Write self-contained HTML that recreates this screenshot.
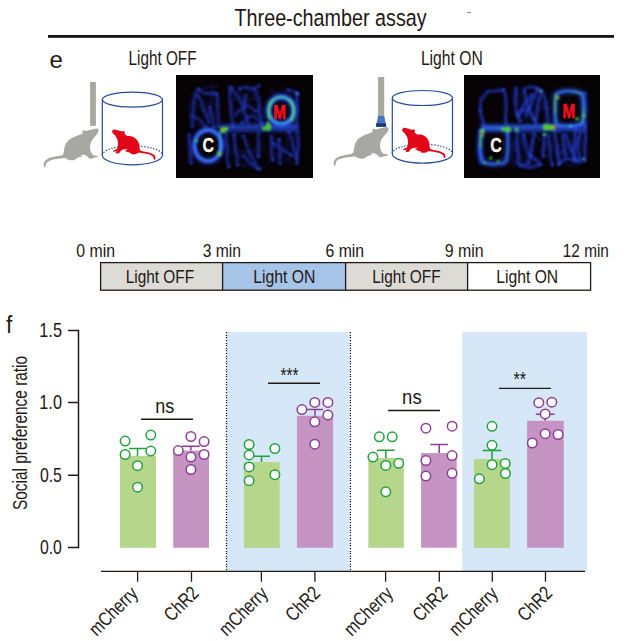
<!DOCTYPE html><html><head><meta charset="utf-8"><style>
html,body{margin:0;padding:0;background:#fff;width:639px;height:641px;overflow:hidden}
svg{display:block}
text{font-family:"Liberation Sans",sans-serif}
</style></head><body>
<svg width="639" height="641" viewBox="0 0 639 641">
<defs>
<filter id="bl" filterUnits="userSpaceOnUse" x="-700" y="-700" width="1400" height="1400"><feGaussianBlur stdDeviation="1.1"/></filter>
<filter id="bl2" filterUnits="userSpaceOnUse" x="-700" y="-700" width="1400" height="1400"><feGaussianBlur stdDeviation="2.2"/></filter>
<path id="rat" d="M98.6,129.6 C98.3,129.5 97.9,128.7 97.1,128.5 C96.4,128.4 95.1,128.7 93.9,129.0 C92.6,129.2 90.8,129.7 89.5,130.1 C88.2,130.4 87.0,130.9 86.2,131.0 C85.4,131.0 85.0,130.7 84.5,130.6 C84.1,130.5 83.6,130.2 83.2,130.4 C82.9,130.6 82.4,131.1 82.2,131.6 C82.1,132.1 82.9,132.8 82.5,133.4 C82.0,133.9 80.8,134.3 79.6,134.8 C78.4,135.3 76.7,135.8 75.2,136.4 C73.8,137.1 72.2,137.7 70.9,138.6 C69.5,139.5 68.0,140.6 67.0,141.9 C66.0,143.2 65.3,144.8 64.8,146.3 C64.3,147.7 64.2,149.4 64.0,150.7 C63.7,152.0 63.6,153.4 63.2,154.2 C62.8,154.9 62.6,154.9 61.5,155.3 C60.5,155.6 58.5,155.8 56.6,156.3 C54.7,156.7 51.9,157.1 50.0,157.8 C48.2,158.5 46.7,159.3 45.7,160.3 C44.6,161.3 44.0,162.6 43.7,163.6 C43.4,164.6 43.8,165.9 44.0,166.5 C44.2,167.2 44.6,167.7 44.9,167.5 C45.2,167.4 45.4,166.5 45.7,165.8 C45.9,165.1 45.7,164.0 46.2,163.3 C46.7,162.5 47.5,161.8 48.7,161.2 C49.9,160.6 51.5,160.1 53.3,159.6 C55.2,159.2 58.0,158.8 59.9,158.6 C61.8,158.3 63.6,157.9 64.8,158.0 C66.1,158.2 66.6,159.0 67.6,159.4 C68.6,159.8 69.8,160.2 70.9,160.3 C72.0,160.4 73.2,160.4 74.1,160.1 C75.1,159.8 75.7,158.8 76.6,158.3 C77.4,157.8 78.5,157.3 79.4,157.0 C80.3,156.7 81.8,156.7 82.0,156.4 C82.3,156.1 80.6,155.5 80.9,155.3 C81.3,155.0 82.9,154.6 84.0,154.8 C85.1,155.0 86.4,155.8 87.3,156.4 C88.1,156.9 88.3,157.9 89.0,158.3 C89.8,158.7 91.2,158.8 91.9,158.8 C92.6,158.7 92.6,158.1 93.3,157.9 C94.0,157.7 95.5,157.6 96.3,157.5 C97.0,157.3 97.8,157.1 97.8,156.8 C97.8,156.5 97.0,156.0 96.3,155.7 C95.5,155.5 94.2,155.7 93.4,155.3 C92.6,154.8 92.0,154.2 91.5,153.1 C90.9,152.0 90.3,150.3 90.1,148.7 C90.0,147.1 90.1,145.1 90.6,143.5 C91.0,142.0 91.9,140.5 92.8,139.2 C93.7,137.8 95.1,136.5 96.1,135.3 C97.0,134.2 97.8,133.2 98.2,132.3 C98.7,131.3 98.5,130.1 98.6,129.6 Z"/>
<path id="redrat" d="M112.3,131.1 C112.5,130.8 112.8,129.7 113.5,129.5 C114.2,129.3 115.4,129.7 116.6,129.9 C117.8,130.2 119.5,130.8 120.5,131.1 C121.5,131.3 122.0,131.5 122.5,131.5 C123.0,131.5 123.2,130.8 123.6,130.9 C124.1,131.0 124.8,131.6 125.0,132.1 C125.1,132.6 124.3,133.2 124.6,133.8 C124.9,134.4 125.8,135.4 126.8,135.8 C127.8,136.2 129.4,135.8 130.7,136.2 C132.0,136.5 133.4,137.0 134.6,137.7 C135.8,138.5 137.0,139.7 137.7,140.9 C138.5,142.0 139.0,143.5 139.3,144.8 C139.6,146.1 139.5,147.7 139.7,148.7 C139.9,149.7 139.9,150.1 140.7,150.6 C141.6,151.2 143.2,151.4 144.8,151.8 C146.4,152.2 148.7,152.5 150.3,153.0 C151.8,153.5 153.3,154.2 154.2,155.0 C155.0,155.7 155.4,156.5 155.5,157.3 C155.6,158.1 155.2,159.5 154.9,159.8 C154.7,160.1 154.1,159.4 153.8,158.9 C153.4,158.3 153.7,157.4 153.0,156.7 C152.3,156.0 150.8,155.2 149.5,154.6 C148.1,154.1 146.5,153.9 144.8,153.5 C143.1,153.2 140.6,152.8 139.3,152.8 C138.0,152.8 137.7,153.3 137.0,153.5 C136.2,153.8 135.5,154.2 134.6,154.3 C133.7,154.5 132.2,154.5 131.5,154.3 C130.8,154.1 131.2,153.5 130.5,153.1 C129.9,152.7 128.4,152.3 127.6,152.0 C126.7,151.7 125.6,151.5 125.4,151.2 C125.1,150.8 125.6,150.2 126.2,149.9 C126.7,149.6 128.9,149.4 128.5,149.3 C128.1,149.3 124.8,149.3 123.6,149.5 C122.4,149.7 122.1,149.8 121.3,150.4 C120.5,151.0 119.7,152.6 119.0,153.1 C118.2,153.6 117.2,153.7 116.6,153.5 C116.1,153.4 115.5,152.8 115.7,152.3 C115.9,151.8 117.8,150.7 117.8,150.6 C117.7,150.5 116.2,151.4 115.4,151.6 C114.7,151.8 113.4,151.8 113.1,151.6 C112.8,151.4 113.0,150.9 113.6,150.5 C114.2,150.1 115.9,149.6 116.6,149.0 C117.3,148.4 117.6,148.2 117.8,147.0 C118.0,145.7 118.0,143.2 117.8,141.6 C117.6,140.1 117.2,138.9 116.6,137.7 C116.0,136.6 115.0,135.5 114.3,134.6 C113.5,133.7 112.6,133.0 112.3,132.4 C112.0,131.8 112.3,131.3 112.3,131.1 Z"/>
</defs>
<text transform="translate(234.49,25.8) scale(0.8416,1)" font-size="23.5" font-weight="400" fill="#231815">Three-chamber assay</text>
<rect x="48" y="35" width="566" height="2.8" fill="#1a1212"/>
<rect x="467" y="12" width="4" height="1" fill="#888"/>
<text x="49.6" y="68" font-size="24" fill="#231815">e</text>
<text transform="translate(128.57,64.9) scale(0.7840,1)" font-size="19.5" font-weight="400" fill="#231815">Light OFF</text>
<text transform="translate(420.89,64.9) scale(0.8054,1)" font-size="19.5" font-weight="400" fill="#231815">Light ON</text>
<g transform="translate(0,0)"><path d="M102.3,99.6 L102.3,155.3 M162.5,99.6 L162.5,155.3" stroke="#254a98" stroke-width="1.2" fill="none"/><ellipse cx="132.4" cy="99.6" rx="30.1" ry="7.5" stroke="#254a98" stroke-width="1.2" fill="none"/><path d="M102.3,155.3 A30.1,9.5 0 0 0 162.5,155.3" stroke="#254a98" stroke-width="1.2" fill="none"/><path d="M102.3,155.3 A30.1,9.5 0 0 1 162.5,155.3" stroke="#254a98" stroke-width="1.3" stroke-dasharray="1.3 1.7" fill="none"/><use href="#rat" fill="#a8a7a1"/><use href="#redrat" fill="#e30618"/></g>
<rect x="90.1" y="82" width="5.8" height="43.9" fill="#a8a7a1"/>
<g transform="translate(290,-1.6)"><path d="M102.3,99.6 L102.3,155.3 M162.5,99.6 L162.5,155.3" stroke="#254a98" stroke-width="1.2" fill="none"/><ellipse cx="132.4" cy="99.6" rx="30.1" ry="7.5" stroke="#254a98" stroke-width="1.2" fill="none"/><path d="M102.3,155.3 A30.1,9.5 0 0 0 162.5,155.3" stroke="#254a98" stroke-width="1.2" fill="none"/><path d="M102.3,155.3 A30.1,9.5 0 0 1 162.5,155.3" stroke="#254a98" stroke-width="1.3" stroke-dasharray="1.3 1.7" fill="none"/><use href="#rat" fill="#a8a7a1"/><use href="#redrat" fill="#e30618"/></g>
<rect x="378.1" y="77" width="6.1" height="38.9" fill="#a8a7a1"/>
<path d="M378.1,115.7 L384.2,115.7 L385.8,123.4 L376.7,123.4 Z" fill="#4a72c4"/>
<rect x="376.1" y="123.2" width="10" height="3.7" fill="#17397a"/>
<g transform="translate(176,75)"><rect x="0" y="0" width="137" height="103" fill="#070203"/><g filter="url(#bl)" stroke="#2a46e8" stroke-width="0.7" fill="none" opacity="0.4"><path d="M16.1,29.7 C18.1,30.9 28.7,37.6 28.3,36.9 C27.9,36.3 15.8,23.4 13.8,25.8 C11.7,28.2 12.9,49.4 16.2,51.3 C19.4,53.2 29.8,43.6 33.3,37.0 C36.8,30.4 37.2,10.6 37.0,11.6 C36.7,12.7 32.7,38.1 31.8,43.3"/><path d="M43.4,33.2 C40.8,31.7 27.9,21.8 27.8,23.8 C27.7,25.9 43.5,46.1 42.9,45.8 C42.2,45.5 26.0,27.6 23.8,22.0 C21.6,16.3 26.4,13.6 29.6,11.8 C32.8,10.1 42.9,11.4 42.9,11.5 C42.9,11.6 31.8,12.5 29.6,12.7"/><path d="M88.3,40.3 C82.4,40.3 55.9,44.7 52.9,40.0 C49.8,35.4 64.1,11.0 70.2,12.5 C76.4,14.1 92.7,46.7 89.8,49.2 C87.0,51.7 54.4,31.6 53.1,27.3 C51.9,23.0 80.7,23.6 82.1,23.6 C83.5,23.5 64.8,26.4 61.4,27.0"/><path d="M76.5,15.8 C74.0,16.8 63.3,20.6 61.5,21.8 C59.6,23.1 65.5,25.1 65.5,23.3 C65.6,21.4 63.6,11.5 61.7,10.5 C59.8,9.6 55.7,16.2 54.3,17.8 C52.8,19.4 51.6,19.9 53.0,20.2 C54.4,20.4 61.1,19.4 62.7,19.2"/><path d="M121.2,22.1 C120.9,24.8 123.6,40.2 119.3,38.7 C115.1,37.3 98.0,14.5 95.4,13.3 C92.9,12.0 102.2,27.6 104.1,31.3 C106.1,34.9 104.2,37.3 107.2,35.3 C110.2,33.3 123.2,22.9 122.3,19.2 C121.4,15.5 105.3,14.1 101.9,13.1"/><path d="M66.5,90.6 C70.6,85.4 86.5,61.4 90.9,59.2 C95.4,56.9 93.6,71.6 93.3,77.2 C93.0,82.7 93.7,90.1 89.0,92.4 C84.3,94.7 66.2,91.4 64.9,90.7 C63.6,90.1 78.5,89.4 81.0,88.4 C83.4,87.4 79.8,85.2 79.6,84.6"/><path d="M64.8,80.7 C68.4,79.1 83.0,71.7 86.6,71.0 C90.2,70.3 89.7,75.6 86.3,76.6 C82.8,77.6 71.5,76.6 66.1,77.0 C60.6,77.4 49.9,78.1 53.4,79.0 C56.9,79.9 87.3,83.6 87.0,82.2 C86.6,80.8 57.0,72.5 51.0,70.6"/><path d="M94.9,76.4 C99.4,78.6 119.6,87.7 121.8,89.4 C124.0,91.1 108.1,88.4 108.1,86.5 C108.1,84.6 121.3,80.6 122.1,78.1 C122.9,75.5 116.2,70.9 113.1,71.0 C110.0,71.1 106.5,76.7 103.5,78.6 C100.4,80.5 96.2,81.8 94.8,82.4"/><path d="M122.4,74.7 C121.4,71.5 120.5,55.6 116.0,55.3 C111.4,55.0 98.8,68.9 95.3,73.0 C91.7,77.1 93.3,78.0 94.6,79.9 C96.0,81.7 100.2,88.2 103.3,84.2 C106.4,80.1 111.8,56.6 113.0,55.6 C114.2,54.5 110.8,74.1 110.4,77.8"/></g><g filter="url(#bl2)" stroke="#1a2cc0" stroke-width="2.4" fill="none" stroke-linecap="round" opacity="0.5"><path d="M22.5,14.0 C21.7,15.7 18.5,17.7 17.5,24.0 C16.5,30.3 16.6,47.3 16.4,52.0"/><path d="M22.5,14.0 C23.8,14.7 27.0,17.2 30.0,18.0 C33.0,18.8 38.8,18.8 40.5,19.0"/><path d="M40.5,19.0 C40.8,21.7 41.6,29.6 42.0,35.0 C42.4,40.4 42.6,48.8 42.7,51.5"/><path d="M21.9,21.0 C22.9,23.3 26.2,30.7 28.0,35.0 C29.8,39.3 32.1,45.0 32.9,47.0"/><path d="M34.0,32.0 C34.3,33.7 35.3,38.7 36.0,42.0 C36.7,45.3 37.7,50.3 38.0,52.0"/><path d="M16.0,40.0 C17.3,41.0 21.7,44.0 24.0,46.0 C26.3,48.0 29.0,51.0 30.0,52.0"/><path d="M53.7,12.0 C53.9,15.3 54.5,25.3 55.0,32.0 C55.5,38.7 56.7,48.7 57.0,52.0"/><path d="M56.0,13.0 C57.0,14.5 60.0,18.7 62.0,22.0 C64.0,25.3 67.0,31.2 68.0,33.0"/><path d="M64.0,14.0 C65.0,13.7 67.7,12.0 70.0,12.0 C72.3,12.0 75.8,14.3 78.0,14.0 C80.2,13.7 82.5,11.0 83.4,10.4"/><path d="M78.0,14.0 C78.7,15.6 81.3,19.2 82.3,23.5 C83.3,27.8 83.4,35.6 84.0,40.0 C84.6,44.4 85.7,48.3 86.0,50.0"/><path d="M70.0,20.0 C69.7,22.5 67.7,30.3 68.0,35.0 C68.3,39.7 71.3,45.8 72.0,48.0"/><path d="M60.0,40.0 C61.7,38.3 66.7,30.7 70.0,30.0 C73.3,29.3 78.3,35.0 80.0,36.0"/><path d="M66.0,48.0 C67.7,46.7 72.7,40.0 76.0,40.0 C79.3,40.0 84.3,46.7 86.0,48.0"/><path d="M121.2,18.6 C121.1,21.3 120.5,29.4 120.5,35.0 C120.5,40.6 120.9,49.2 121.0,52.0"/><path d="M112.0,15.0 L121.2,18.6"/><path d="M13.0,60.0 C13.2,62.5 13.7,70.3 14.0,75.0 C14.3,79.7 14.8,85.8 15.0,88.0"/><path d="M67.0,61.0 C68.2,63.8 71.6,72.7 74.0,78.0 C76.4,83.3 80.0,90.4 81.2,92.9"/><path d="M82.3,58.0 C82.3,60.0 82.3,66.2 82.3,70.0 C82.3,73.8 82.3,79.2 82.3,81.0"/><path d="M50.0,58.0 C50.2,60.8 50.5,69.3 51.0,75.0 C51.5,80.7 52.7,89.2 53.0,92.0"/><path d="M67.0,80.9 C68.3,82.1 72.3,85.8 75.0,88.0 C77.7,90.2 82.0,93.0 83.4,94.0"/><path d="M58.0,60.0 C58.3,62.7 59.3,71.0 60.0,76.0 C60.7,81.0 61.7,87.7 62.0,90.0"/><path d="M95.5,61.0 C95.6,63.0 95.8,69.0 96.0,73.0 C96.2,77.0 96.5,83.2 96.6,85.2"/><path d="M103.0,64.4 C103.1,66.3 103.3,72.0 103.5,76.0 C103.7,80.0 104.1,86.4 104.2,88.5"/><path d="M113.0,56.8 C113.7,59.0 115.7,65.6 117.0,70.0 C118.3,74.4 120.1,80.8 120.7,83.0"/><path d="M97.0,68.0 C98.5,69.0 103.0,72.0 106.0,74.0 C109.0,76.0 113.5,79.0 115.0,80.0"/><path d="M121.8,56.0 C121.8,58.3 122.1,64.7 122.0,70.0 C121.9,75.3 121.2,85.0 121.0,88.0"/></g><g filter="url(#bl2)" fill="none"><ellipse cx="32" cy="70.5" rx="14" ry="16" stroke="#1c38c8" stroke-width="6" opacity="0.7"/><ellipse cx="105.3" cy="35.5" rx="13" ry="14" stroke="#1c3ad0" stroke-width="7" opacity="0.8"/><path d="M44,53.5 C60,52.5 90,52.5 122,53" stroke="#1c38c8" stroke-width="8" opacity="0.6"/></g><g filter="url(#bl)" stroke="#2c4cf0" stroke-width="0.9" fill="none" stroke-linecap="round" opacity="0.55"><path d="M22.2,13.1 C22.0,14.0 21.4,16.4 20.8,18.3 C20.1,20.3 18.7,21.7 18.3,24.8 C17.9,27.9 18.8,32.4 18.3,36.9 C17.8,41.5 15.8,49.6 15.3,52.1"/><path d="M22.9,13.6 C22.2,14.4 19.6,16.5 18.8,18.2 C18.1,19.8 18.6,19.9 18.4,23.3 C18.2,26.7 17.9,34.2 17.5,38.7 C17.2,43.3 16.7,48.7 16.5,50.7"/><path d="M21.7,14.8 C21.5,15.7 20.8,18.5 20.1,20.3 C19.4,22.0 18.2,22.3 17.5,25.4 C16.8,28.5 16.1,34.7 16.0,39.0 C15.9,43.3 16.8,49.2 17.0,51.2"/><path d="M22.2,15.1 C22.9,15.2 24.8,15.2 25.9,15.9 C27.1,16.5 27.8,18.6 29.2,19.1 C30.5,19.5 31.9,18.7 33.9,18.6 C35.8,18.6 39.8,18.9 40.9,19.0"/><path d="M23.4,13.6 C23.8,14.2 24.9,16.4 25.8,17.4 C26.7,18.3 27.2,18.6 28.9,19.0 C30.6,19.4 34.3,19.8 36.1,19.7 C37.8,19.6 38.9,18.5 39.4,18.3"/><path d="M22.2,12.8 C22.8,13.6 24.2,16.6 25.7,17.3 C27.2,18.1 29.5,17.4 31.2,17.3 C32.9,17.3 34.3,17.1 35.9,17.1 C37.4,17.2 39.7,17.6 40.5,17.7"/><path d="M40.1,18.8 C40.2,20.3 40.4,25.3 40.6,28.2 C40.8,31.1 41.0,33.7 41.2,36.0 C41.5,38.3 41.9,39.3 42.2,41.9 C42.4,44.6 42.7,50.3 42.8,52.0"/><path d="M41.7,18.9 C41.8,20.5 42.6,25.4 42.6,28.1 C42.7,30.9 42.1,32.8 42.1,35.5 C42.0,38.2 42.0,41.6 42.2,44.3 C42.3,47.1 42.8,50.7 42.9,52.0"/><path d="M41.2,18.8 C41.3,20.3 41.3,25.4 41.4,27.9 C41.6,30.5 42.0,31.3 42.2,34.1 C42.3,36.8 42.4,41.4 42.4,44.4 C42.4,47.4 42.1,50.7 42.0,52.0"/><path d="M23.2,22.0 C23.5,22.9 24.6,25.3 25.3,27.5 C25.9,29.6 26.2,32.9 27.0,35.1 C27.8,37.4 28.9,39.2 29.8,41.0 C30.8,42.8 32.2,45.1 32.7,45.9"/><path d="M20.5,20.7 C21.3,21.7 23.6,24.3 25.1,26.7 C26.5,29.1 28.0,32.9 29.2,35.1 C30.3,37.3 31.4,38.1 31.8,39.9 C32.3,41.8 31.8,45.0 31.8,46.1"/><path d="M23.1,20.9 C23.6,22.2 25.4,26.6 26.1,28.8 C26.9,31.1 27.0,32.3 27.7,34.3 C28.4,36.2 29.4,38.2 30.4,40.6 C31.5,42.9 33.4,46.9 34.0,48.2"/><path d="M35.2,32.1 C35.0,32.9 34.0,35.2 33.9,36.8 C33.8,38.3 34.1,39.4 34.7,41.3 C35.3,43.3 37.2,46.7 37.6,48.3 C37.9,50.0 36.8,50.6 36.7,51.0"/><path d="M32.6,31.4 C33.1,32.2 35.1,34.5 35.6,36.3 C36.2,38.1 35.7,40.0 36.0,42.0 C36.3,43.9 36.8,46.2 37.2,48.0 C37.6,49.8 38.2,51.8 38.3,52.6"/><path d="M34.6,33.1 C34.4,33.8 33.3,35.8 33.7,37.4 C34.1,38.9 36.3,40.5 36.9,42.3 C37.5,44.1 36.9,46.5 37.1,48.0 C37.3,49.5 37.9,50.7 38.1,51.2"/><path d="M15.2,40.1 C16.0,40.4 18.6,40.9 20.2,42.0 C21.9,43.0 24.1,45.3 25.2,46.4 C26.2,47.4 25.7,47.0 26.6,48.1 C27.4,49.2 29.7,52.3 30.3,53.1"/><path d="M15.1,40.8 C15.8,41.0 17.5,41.2 19.1,41.9 C20.8,42.6 24.0,43.8 25.1,45.0 C26.2,46.1 25.1,47.3 25.8,48.7 C26.6,50.1 29.2,52.5 29.8,53.2"/><path d="M16.1,40.6 C16.6,41.0 17.7,42.6 19.2,43.4 C20.6,44.1 23.5,44.0 24.8,44.9 C26.2,45.7 26.2,47.5 27.2,48.6 C28.2,49.7 30.3,51.1 30.9,51.6"/><path d="M54.3,12.4 C54.2,14.2 53.6,20.0 53.9,23.4 C54.2,26.8 55.6,30.0 55.9,32.8 C56.3,35.7 55.6,37.4 55.9,40.7 C56.3,43.9 57.4,50.4 57.7,52.3"/><path d="M54.8,11.9 C54.6,13.4 53.6,17.7 53.5,20.9 C53.4,24.1 53.8,27.4 54.1,31.0 C54.4,34.6 54.9,39.2 55.4,42.5 C55.9,45.8 56.9,49.6 57.2,51.0"/><path d="M54.2,10.8 C54.0,12.6 53.1,18.2 53.2,21.7 C53.3,25.2 54.5,28.3 54.8,31.6 C55.1,34.9 54.8,38.5 55.2,41.6 C55.6,44.8 57.0,49.2 57.4,50.7"/><path d="M55.2,12.7 C55.7,13.5 57.3,15.5 58.6,17.1 C59.9,18.7 62.3,20.4 63.2,22.3 C64.1,24.2 63.1,26.7 63.9,28.3 C64.6,29.9 66.9,31.3 67.5,31.8"/><path d="M57.0,14.1 C57.5,14.8 59.3,17.6 60.1,18.7 C61.0,19.9 61.3,19.7 62.2,21.1 C63.0,22.5 64.1,25.2 65.2,27.1 C66.3,28.9 68.2,31.5 68.7,32.4"/><path d="M54.9,13.7 C55.4,14.5 57.0,17.4 58.0,18.7 C59.1,20.0 59.8,20.1 61.0,21.5 C62.1,22.9 64.0,25.4 65.1,27.1 C66.2,28.9 67.4,31.3 67.8,32.1"/><path d="M63.2,13.1 C64.0,13.0 66.9,12.4 67.8,12.4 C68.8,12.4 67.6,12.8 68.9,13.1 C70.1,13.4 74.1,14.1 75.4,14.1 C76.7,14.2 75.6,13.8 76.7,13.4 C77.8,12.9 81.0,12.2 82.0,11.6 C83.0,11.1 82.5,10.4 82.6,10.1"/><path d="M63.1,12.8 C63.8,12.8 66.0,13.3 67.0,13.0 C68.1,12.7 68.1,10.9 69.2,10.9 C70.3,11.0 72.4,12.9 73.7,13.2 C75.0,13.5 75.9,13.1 76.9,12.9 C78.0,12.7 78.9,12.3 80.0,12.0 C81.0,11.7 82.8,11.3 83.4,11.1"/><path d="M64.4,12.6 C64.7,12.6 65.5,12.5 66.3,12.4 C67.2,12.3 68.3,12.0 69.6,12.1 C70.8,12.2 72.2,12.9 73.8,13.1 C75.3,13.2 77.8,13.0 79.0,12.9 C80.1,12.8 79.8,12.9 80.5,12.6 C81.3,12.3 83.0,11.2 83.5,10.9"/><path d="M79.3,13.7 C79.6,14.5 80.7,16.6 81.4,18.4 C82.1,20.2 83.3,22.2 83.6,24.5 C83.9,26.8 83.2,29.4 83.3,32.0 C83.3,34.6 83.6,37.9 83.8,40.0 C84.0,42.1 84.1,43.0 84.4,44.7 C84.7,46.4 85.3,49.2 85.5,50.1"/><path d="M78.0,13.4 C78.5,14.3 80.5,17.7 81.4,19.2 C82.2,20.7 82.6,20.0 83.0,22.2 C83.4,24.3 83.7,29.1 83.9,32.0 C84.1,34.9 84.1,37.8 84.4,39.7 C84.6,41.7 85.3,42.1 85.5,43.7 C85.7,45.4 85.5,48.7 85.5,49.7"/><path d="M78.2,14.6 C78.5,15.5 79.1,18.0 79.6,19.6 C80.2,21.2 81.1,22.0 81.5,24.1 C82.0,26.3 82.3,30.0 82.5,32.5 C82.7,34.9 82.2,36.6 82.7,38.9 C83.3,41.2 85.5,44.1 85.9,46.1 C86.2,48.2 85.1,50.4 85.0,51.3"/><path d="M69.3,20.6 C69.0,21.7 68.1,24.7 67.7,27.3 C67.3,29.8 66.6,33.8 66.9,36.0 C67.2,38.2 68.8,38.7 69.6,40.5 C70.4,42.4 71.3,45.9 71.6,47.0"/><path d="M69.8,20.3 C69.7,21.6 69.7,25.4 69.4,28.0 C69.0,30.6 67.4,33.6 67.6,35.7 C67.9,37.8 70.3,38.6 70.9,40.5 C71.5,42.4 71.3,45.9 71.4,47.0"/><path d="M69.9,20.0 C69.7,21.3 68.6,25.1 68.5,27.5 C68.3,29.9 68.7,31.9 69.0,34.4 C69.3,36.8 69.7,40.0 70.3,42.1 C70.9,44.3 72.2,46.3 72.6,47.1"/><path d="M59.4,39.3 C60.5,38.6 64.4,36.7 66.3,35.0 C68.1,33.3 68.9,29.4 70.4,29.1 C72.0,28.9 74.1,32.3 75.5,33.4 C76.9,34.4 78.1,35.0 78.6,35.3"/><path d="M58.7,38.7 C59.6,38.0 62.2,35.6 64.2,34.4 C66.2,33.1 69.1,31.5 70.7,31.2 C72.4,30.8 72.3,31.5 74.1,32.3 C75.8,33.1 80.1,35.3 81.3,36.0"/><path d="M59.6,39.5 C60.5,38.6 63.1,35.4 65.0,34.0 C66.9,32.5 69.4,30.9 71.0,30.8 C72.7,30.8 73.2,32.9 74.9,33.9 C76.5,34.9 79.9,36.3 80.9,36.8"/><path d="M65.8,48.7 C66.7,47.7 69.2,44.3 70.7,43.0 C72.2,41.7 73.3,40.9 75.0,40.9 C76.8,41.0 79.3,42.1 81.3,43.4 C83.2,44.7 85.8,48.0 86.7,48.9"/><path d="M65.1,48.4 C66.1,47.7 69.5,45.3 71.2,43.9 C73.0,42.5 73.9,40.1 75.5,40.1 C77.1,40.2 78.9,42.9 80.8,44.2 C82.7,45.5 85.9,47.3 86.9,47.9"/><path d="M66.9,46.6 C67.5,46.4 68.9,46.2 70.5,45.1 C72.0,44.1 74.5,40.6 76.3,40.5 C78.0,40.5 79.4,43.3 81.0,44.7 C82.5,46.2 84.8,48.3 85.5,49.1"/><path d="M120.4,19.0 C120.4,20.5 120.4,25.3 120.4,27.9 C120.3,30.6 119.9,32.1 120.0,34.8 C120.1,37.6 120.8,41.9 121.0,44.6 C121.3,47.4 121.4,50.3 121.5,51.4"/><path d="M121.3,20.0 C121.2,21.0 120.6,23.4 120.7,26.0 C120.8,28.6 121.8,32.9 121.8,35.6 C121.8,38.4 120.8,39.8 120.8,42.3 C120.8,44.8 121.7,49.3 121.9,50.7"/><path d="M121.7,18.8 C121.7,20.3 121.9,24.8 121.7,27.5 C121.4,30.1 120.4,32.0 120.1,34.7 C119.8,37.4 119.8,41.1 119.8,43.8 C119.8,46.4 120.0,49.7 120.1,50.9"/><path d="M111.9,16.0 C112.8,16.0 116.1,15.7 117.5,16.0 C118.8,16.3 119.5,17.4 120.0,17.6"/><path d="M111.4,13.7 C112.4,14.1 115.9,15.9 117.6,16.6 C119.2,17.3 120.8,17.8 121.4,18.1"/><path d="M112.1,14.5 C112.8,14.7 114.5,15.2 116.0,15.7 C117.4,16.2 119.9,17.0 120.7,17.3"/><path d="M13.4,58.9 C13.6,60.3 14.2,64.6 14.4,67.3 C14.6,70.0 14.4,72.7 14.6,75.0 C14.8,77.3 15.6,78.9 15.6,81.0 C15.7,83.1 15.0,86.5 14.9,87.6"/><path d="M13.9,59.5 C13.6,60.9 12.3,65.1 12.5,67.5 C12.6,69.8 14.5,71.7 14.9,73.8 C15.2,75.9 14.7,77.6 14.8,80.2 C15.0,82.8 15.6,87.8 15.7,89.4"/><path d="M12.6,58.6 C12.7,59.9 12.9,63.6 13.2,66.3 C13.4,69.1 13.9,72.7 13.9,75.1 C13.9,77.6 13.2,79.1 13.2,81.1 C13.1,83.1 13.6,85.9 13.6,86.9"/><path d="M68.2,62.2 C68.5,63.2 68.8,65.8 69.8,68.6 C70.8,71.3 73.2,75.8 74.4,78.5 C75.6,81.3 75.9,82.8 77.1,85.1 C78.2,87.4 80.6,91.1 81.3,92.3"/><path d="M68.1,60.9 C68.6,62.3 70.3,65.9 71.1,68.9 C72.0,72.0 71.8,76.3 73.0,79.2 C74.3,82.0 77.6,83.9 78.8,86.2 C79.9,88.4 79.7,91.7 79.8,92.8"/><path d="M67.8,60.5 C68.1,61.9 68.6,66.1 69.7,69.1 C70.7,72.1 72.9,75.6 74.2,78.3 C75.6,81.0 76.4,82.9 77.5,85.5 C78.7,88.1 80.5,92.6 81.0,94.0"/><path d="M82.0,59.1 C82.3,60.0 83.3,62.5 83.5,64.4 C83.8,66.2 83.6,68.3 83.5,70.1 C83.5,72.0 83.5,73.4 83.3,75.5 C83.0,77.5 82.2,81.1 82.0,82.3"/><path d="M82.7,58.8 C82.5,59.8 81.3,63.3 81.2,65.0 C81.0,66.8 82.0,67.3 82.0,69.2 C82.0,71.1 81.0,74.2 81.3,76.3 C81.5,78.4 83.2,80.9 83.6,81.8"/><path d="M83.1,58.8 C82.7,59.9 81.0,63.1 81.1,65.2 C81.1,67.2 83.0,69.4 83.4,71.0 C83.8,72.7 83.7,73.7 83.4,75.4 C83.1,77.0 81.9,79.9 81.6,80.8"/><path d="M51.0,57.8 C51.1,59.1 51.1,62.5 51.3,65.5 C51.4,68.5 52.2,72.8 52.1,75.9 C52.1,79.0 50.8,81.5 51.0,84.2 C51.2,86.9 52.9,90.7 53.3,92.0"/><path d="M48.7,58.2 C48.9,59.4 49.0,63.0 49.6,65.7 C50.2,68.3 51.9,71.1 52.2,74.0 C52.4,76.9 50.8,80.1 51.0,83.1 C51.2,86.1 52.9,90.6 53.3,92.1"/><path d="M51.1,58.5 C50.8,60.0 49.3,64.5 49.3,67.2 C49.3,69.9 50.9,72.4 51.1,75.0 C51.3,77.6 50.5,79.7 50.7,82.6 C50.8,85.5 51.9,90.9 52.1,92.5"/><path d="M67.8,80.7 C68.1,81.3 68.5,82.8 69.7,84.2 C70.9,85.6 73.2,88.2 75.0,89.3 C76.8,90.3 79.1,89.7 80.5,90.5 C81.9,91.3 82.7,93.5 83.1,94.2"/><path d="M68.4,81.4 C68.6,81.7 68.9,82.1 69.8,83.3 C70.7,84.4 72.3,87.1 74.0,88.5 C75.6,89.9 78.0,90.9 79.7,91.7 C81.4,92.4 83.4,92.7 84.2,92.9"/><path d="M66.8,81.9 C67.6,82.3 70.3,83.5 71.6,84.4 C72.9,85.2 73.0,85.6 74.4,86.9 C75.8,88.2 78.3,90.7 80.0,92.0 C81.6,93.3 83.6,94.2 84.4,94.6"/><path d="M59.1,59.0 C59.2,60.7 59.1,66.2 59.4,69.2 C59.6,72.3 60.3,74.9 60.7,77.3 C61.1,79.6 61.7,81.2 61.7,83.2 C61.7,85.1 61.0,88.1 60.8,89.1"/><path d="M57.7,58.9 C57.8,60.3 58.1,64.5 58.5,67.4 C58.8,70.3 59.5,73.8 59.9,76.4 C60.3,78.9 60.7,80.3 60.9,82.7 C61.0,85.0 60.9,89.1 60.9,90.3"/><path d="M57.0,60.4 C57.2,61.5 57.8,64.6 58.1,67.1 C58.4,69.7 58.1,73.4 58.7,75.9 C59.3,78.4 61.2,79.3 61.6,81.9 C61.9,84.5 60.8,89.8 60.7,91.4"/><path d="M95.3,61.8 C95.3,62.8 95.0,66.2 95.3,67.9 C95.6,69.6 97.2,70.3 97.2,72.0 C97.2,73.7 95.5,75.9 95.5,78.1 C95.5,80.3 96.9,84.0 97.1,85.2"/><path d="M96.7,61.3 C96.6,62.3 96.6,65.2 96.4,67.3 C96.2,69.4 95.6,71.6 95.5,73.8 C95.4,76.0 95.4,78.7 95.6,80.5 C95.8,82.2 96.5,83.9 96.7,84.5"/><path d="M94.6,60.5 C94.8,61.6 95.5,65.1 95.6,67.2 C95.7,69.2 95.2,70.7 95.2,72.5 C95.2,74.3 95.4,76.0 95.7,78.0 C96.1,80.0 97.0,83.4 97.2,84.5"/><path d="M103.1,63.8 C103.0,64.9 102.4,68.5 102.5,70.5 C102.6,72.6 103.5,74.0 103.5,76.2 C103.6,78.4 102.7,81.3 103.0,83.5 C103.3,85.6 105.2,88.1 105.6,89.1"/><path d="M104.2,64.6 C103.8,65.6 101.9,68.9 101.9,70.6 C101.9,72.4 104.0,73.1 104.3,75.0 C104.6,76.9 103.9,80.0 103.8,82.0 C103.7,84.1 103.7,86.5 103.7,87.4"/><path d="M104.0,63.7 C104.1,64.8 104.3,68.1 104.3,70.1 C104.3,72.0 104.2,73.2 104.1,75.3 C104.1,77.3 104.2,80.0 104.0,82.4 C103.8,84.8 103.2,88.4 103.0,89.7"/><path d="M112.1,57.5 C112.7,58.4 115.5,60.6 116.1,62.9 C116.8,65.2 115.8,68.9 116.0,71.2 C116.2,73.6 116.7,74.9 117.5,77.0 C118.2,79.1 119.8,82.6 120.3,83.7"/><path d="M112.6,55.9 C113.1,57.3 114.6,62.0 115.3,64.3 C116.0,66.6 116.1,67.5 116.9,69.7 C117.6,72.0 118.8,75.7 119.6,77.7 C120.5,79.7 121.7,81.3 122.1,82.0"/><path d="M113.7,57.8 C114.1,58.8 115.5,61.6 116.1,63.7 C116.8,65.9 117.1,68.6 117.4,70.7 C117.7,72.8 117.6,74.2 117.9,76.3 C118.2,78.3 119.1,81.9 119.4,83.1"/><path d="M95.9,67.7 C96.8,68.1 99.5,68.7 101.0,70.0 C102.6,71.2 103.9,73.9 105.3,75.2 C106.7,76.5 107.5,76.9 109.2,77.8 C111.0,78.7 114.6,80.3 115.6,80.8"/><path d="M96.7,68.0 C97.3,68.4 98.7,69.4 100.4,70.6 C102.1,71.8 105.4,74.1 107.1,75.2 C108.8,76.2 109.5,75.8 110.7,76.7 C111.9,77.7 113.8,80.4 114.4,81.1"/><path d="M96.9,69.1 C97.8,69.6 100.7,71.3 102.0,71.9 C103.4,72.5 103.3,72.2 104.9,72.9 C106.5,73.7 110.0,75.4 111.7,76.5 C113.4,77.7 114.5,79.2 115.1,79.8"/><path d="M120.5,57.1 C120.6,58.2 121.1,61.2 121.3,63.3 C121.6,65.4 121.9,66.9 121.8,69.7 C121.8,72.4 121.0,76.6 121.0,79.8 C121.0,83.0 121.9,87.5 122.1,89.1"/><path d="M121.1,57.0 C121.1,58.1 120.8,61.9 121.2,64.0 C121.6,66.2 123.5,67.2 123.3,69.9 C123.2,72.6 120.8,77.1 120.4,80.1 C120.0,83.2 121.0,87.1 121.1,88.4"/><path d="M123.0,57.1 C123.1,58.2 123.3,61.6 123.3,63.6 C123.3,65.7 123.3,67.0 123.0,69.6 C122.8,72.2 122.1,76.0 121.6,79.2 C121.1,82.3 120.3,86.9 120.1,88.4"/></g><g filter="url(#bl)" fill="#3458f4" opacity="0.5"><circle cx="22.5" cy="14.0" r="1.3"/><circle cx="16.4" cy="52.0" r="1.1"/><circle cx="22.5" cy="14.0" r="1.1"/><circle cx="40.5" cy="19.0" r="1.4"/><circle cx="40.5" cy="19.0" r="1.1"/><circle cx="42.7" cy="51.5" r="1.6"/><circle cx="21.9" cy="21.0" r="1.4"/><circle cx="32.9" cy="47.0" r="1.3"/><circle cx="34.0" cy="32.0" r="1.2"/><circle cx="38.0" cy="52.0" r="1.5"/><circle cx="16.0" cy="40.0" r="1.0"/><circle cx="30.0" cy="52.0" r="1.1"/><circle cx="53.7" cy="12.0" r="1.3"/><circle cx="57.0" cy="52.0" r="1.3"/><circle cx="56.0" cy="13.0" r="1.4"/><circle cx="68.0" cy="33.0" r="1.1"/><circle cx="64.0" cy="14.0" r="1.5"/><circle cx="83.4" cy="10.4" r="1.2"/><circle cx="78.0" cy="14.0" r="1.2"/><circle cx="86.0" cy="50.0" r="1.3"/><circle cx="70.0" cy="20.0" r="1.2"/><circle cx="72.0" cy="48.0" r="1.2"/><circle cx="60.0" cy="40.0" r="1.1"/><circle cx="80.0" cy="36.0" r="1.5"/><circle cx="66.0" cy="48.0" r="1.5"/><circle cx="86.0" cy="48.0" r="1.6"/><circle cx="121.2" cy="18.6" r="1.1"/><circle cx="121.0" cy="52.0" r="1.6"/><circle cx="112.0" cy="15.0" r="1.5"/><circle cx="121.2" cy="18.6" r="1.0"/><circle cx="13.0" cy="60.0" r="1.2"/><circle cx="15.0" cy="88.0" r="1.6"/><circle cx="67.0" cy="61.0" r="1.6"/><circle cx="81.2" cy="92.9" r="1.0"/><circle cx="82.3" cy="58.0" r="1.4"/><circle cx="82.3" cy="81.0" r="1.5"/><circle cx="50.0" cy="58.0" r="1.4"/><circle cx="53.0" cy="92.0" r="1.4"/><circle cx="67.0" cy="80.9" r="1.2"/><circle cx="83.4" cy="94.0" r="1.7"/><circle cx="58.0" cy="60.0" r="1.7"/><circle cx="62.0" cy="90.0" r="1.5"/><circle cx="95.5" cy="61.0" r="1.2"/><circle cx="96.6" cy="85.2" r="1.6"/><circle cx="103.0" cy="64.4" r="1.7"/><circle cx="104.2" cy="88.5" r="1.2"/><circle cx="113.0" cy="56.8" r="1.3"/><circle cx="120.7" cy="83.0" r="1.6"/><circle cx="97.0" cy="68.0" r="1.2"/><circle cx="115.0" cy="80.0" r="1.7"/><circle cx="121.8" cy="56.0" r="1.5"/><circle cx="121.0" cy="88.0" r="1.3"/></g><g filter="url(#bl)" fill="none" stroke-linecap="round"><ellipse cx="32" cy="70.5" rx="13.5" ry="15.5" stroke="#2c5af0" stroke-width="4" opacity="0.85"/><ellipse cx="32" cy="70.5" rx="13.5" ry="15.5" stroke="#4a8af4" stroke-width="1.3" opacity="0.8"/><path d="M44.2,57 L43.6,80" stroke="#40a8f0" stroke-width="1.5"/><ellipse cx="105.3" cy="35.5" rx="12.6" ry="13.6" stroke="#2c5af0" stroke-width="4.5" opacity="0.9"/><ellipse cx="105.3" cy="35.5" rx="12.3" ry="13.3" stroke="#40b0c0" stroke-width="1.8" opacity="0.9"/><path d="M93.5,43 C92,34 93,28 97,25" stroke="#58d050" stroke-width="2.6" opacity="0.95"/><path d="M114,25.5 C118,30 118.5,38 116,45" stroke="#58d050" stroke-width="2.6" opacity="0.95"/><path d="M99,22.8 C103,21.8 108,22 112,24" stroke="#50c870" stroke-width="1.8" opacity="0.8"/><path d="M45,50 C60,49.5 80,49.5 120,50" stroke="#2c50f0" stroke-width="1" opacity="0.6"/><path d="M45,52.5 C60,52 80,52 120,52.5" stroke="#3868f0" stroke-width="1.4" opacity="0.7"/><path d="M45,55.5 C60,56 80,55.5 120,55" stroke="#2c50f0" stroke-width="1" opacity="0.6"/></g><g filter="url(#bl)"><circle cx="47.1" cy="55.1" r="3" fill="#48d040"/><circle cx="50.5" cy="53.8" r="2" fill="#50d040"/><circle cx="47.1" cy="55.1" r="1.2" fill="#e05020"/><circle cx="92.2" cy="52.5" r="3.2" fill="#48c040"/><circle cx="88" cy="53.5" r="2.2" fill="#40b840"/><circle cx="92.2" cy="48.5" r="1.8" fill="#48c838"/><circle cx="20.3" cy="65.5" r="1.6" fill="#40c040"/><circle cx="43.3" cy="78.7" r="2.2" fill="#48c840"/><circle cx="43.3" cy="78.7" r="1" fill="#e06020"/><circle cx="121.2" cy="18.6" r="1.8" fill="#3070f0"/></g><text font-size="20" font-weight="700" fill="#f6f2e8" stroke="#f6f2e8" stroke-width="0.4" text-anchor="middle" transform="translate(32.3,77.2) scale(0.8,1)">C</text><text font-size="19.5" font-weight="700" fill="#ee1020" stroke="#ee1020" stroke-width="0.7" text-anchor="middle" transform="translate(103.7,43.8) scale(0.78,1)">M</text></g>
<g transform="translate(464,75)"><rect x="0" y="0" width="136" height="103" fill="#070203"/><g filter="url(#bl)" stroke="#2a46e8" stroke-width="0.7" fill="none" opacity="0.4"><path d="M84.1,47.7 C81.0,48.2 71.0,56.5 65.3,50.9 C59.7,45.2 52.9,17.3 50.4,13.8 C47.8,10.2 49.1,29.9 50.0,29.6 C51.0,29.2 50.1,7.9 56.0,11.6 C61.9,15.3 82.7,45.1 85.6,51.6 C88.5,58.1 75.3,50.9 73.2,50.8"/><path d="M49.8,36.1 C56.0,35.6 86.0,34.6 86.5,33.4 C87.0,32.2 53.4,30.7 53.0,29.0 C52.5,27.3 83.7,20.1 83.8,23.2 C84.0,26.4 54.2,46.8 53.9,48.0 C53.7,49.2 76.7,35.4 82.2,30.2 C87.7,25.0 86.1,19.1 86.9,16.9"/><path d="M58.6,33.8 C60.7,36.5 72.5,53.7 71.3,49.8 C70.2,45.9 51.2,10.4 51.8,10.6 C52.3,10.8 69.3,47.1 74.7,50.9 C80.1,54.8 83.8,37.7 84.2,33.5 C84.5,29.4 80.4,28.1 77.0,25.8 C73.5,23.5 65.8,20.8 63.6,19.7"/><path d="M50.8,75.6 C51.2,72.2 49.1,56.8 53.6,55.0 C58.1,53.3 75.8,64.7 77.6,65.1 C79.5,65.5 64.2,54.6 64.6,57.2 C65.1,59.8 77.2,77.8 80.4,80.8 C83.6,83.7 85.4,78.9 83.8,75.0 C82.2,71.2 72.9,60.7 70.7,57.9"/><path d="M71.0,56.2 C68.9,61.9 60.6,90.3 58.4,90.3 C56.3,90.2 59.6,55.5 58.2,55.9 C56.7,56.3 51.0,91.8 49.8,92.9 C48.5,93.9 50.5,62.9 50.5,62.3 C50.5,61.8 44.2,86.4 49.8,89.7 C55.3,93.0 78.1,83.2 83.7,81.9"/><path d="M60.5,91.2 C58.5,87.6 47.8,69.4 48.6,69.5 C49.3,69.5 63.6,93.3 64.8,91.3 C65.9,89.3 54.1,58.9 55.5,57.5 C56.8,56.2 70.6,79.3 72.7,83.2 C74.9,87.1 66.7,79.5 68.3,80.9 C70.0,82.3 80.2,89.8 82.5,91.6"/><path d="M122.7,65.4 C117.3,64.1 95.1,54.5 90.3,57.3 C85.4,60.0 91.1,79.8 93.7,81.9 C96.2,84.0 100.8,71.9 105.5,69.8 C110.2,67.7 124.6,67.9 121.9,69.3 C119.3,70.7 91.1,77.0 89.6,78.2 C88.1,79.4 109.1,76.8 113.0,76.6"/><path d="M119.1,54.6 C115.0,58.9 96.2,74.8 94.6,80.9 C93.0,87.0 107.1,93.3 109.6,91.0 C112.1,88.7 112.0,72.7 109.5,67.1 C107.0,61.5 93.5,58.0 94.4,57.4 C95.3,56.8 110.6,60.0 115.0,63.6 C119.4,67.1 120.0,76.1 121.0,78.6"/><path d="M97.2,75.1 C98.5,75.6 102.8,79.6 105.1,78.4 C107.4,77.3 111.9,66.6 111.1,68.1 C110.3,69.6 99.6,83.7 100.2,87.4 C100.8,91.0 116.6,92.8 114.7,90.1 C112.7,87.4 87.3,73.6 88.6,71.1 C90.0,68.6 117.1,74.6 122.7,75.3"/></g><g filter="url(#bl2)" stroke="#1a2cc0" stroke-width="2.4" fill="none" stroke-linecap="round" opacity="0.5"><path d="M16.4,36.0 C16.4,34.4 15.1,29.6 16.4,26.3 C17.7,23.0 20.2,18.3 24.0,16.4 C27.8,14.5 36.8,15.1 39.4,14.8"/><path d="M39.4,14.8 C39.8,16.0 41.2,17.1 41.6,21.9 C42.0,26.7 41.6,39.2 41.6,43.8 C41.6,48.4 41.6,48.4 41.6,49.3"/><path d="M16.4,36.0 C16.8,37.8 18.0,44.3 18.6,47.0 C19.2,49.7 19.8,51.2 20.0,52.0"/><path d="M51.5,13.1 C51.6,15.9 51.8,25.6 52.0,30.0 C52.2,34.4 51.9,36.7 52.6,39.4 C53.3,42.1 55.4,44.9 56.0,46.0"/><path d="M52.6,39.4 C53.8,38.7 57.8,36.1 60.0,35.0 C62.2,33.9 64.8,33.2 65.7,32.9"/><path d="M67.9,19.7 C66.6,21.4 62.2,26.4 60.0,30.0 C57.8,33.6 55.7,39.7 54.8,41.6"/><path d="M60.0,14.0 C61.0,13.7 64.0,12.2 66.0,12.0 C68.0,11.8 71.0,12.8 72.0,13.0"/><path d="M72.0,13.0 C73.0,13.5 76.3,13.2 78.0,16.0 C79.7,18.8 81.0,24.3 82.0,30.0 C83.0,35.7 83.7,46.7 84.0,50.0"/><path d="M77.0,15.9 C76.5,18.2 74.8,24.6 74.0,30.0 C73.2,35.4 72.3,45.0 72.0,48.0"/><path d="M53.7,56.0 C53.7,58.7 53.7,66.7 53.7,72.0 C53.8,77.3 54.0,85.3 54.0,88.0"/><path d="M60.0,60.0 C60.3,62.5 61.0,71.5 62.0,75.0 C63.0,78.5 65.3,79.9 66.0,80.9"/><path d="M66.0,80.9 L77.0,89.6"/><path d="M70.0,58.0 C69.7,60.7 69.0,69.0 68.0,74.0 C67.0,79.0 64.7,85.7 64.0,88.0"/><path d="M80.2,59.0 C80.1,60.8 79.8,66.3 79.6,70.0 C79.4,73.7 79.2,79.1 79.1,80.9"/><path d="M90.0,54.6 C90.5,57.5 92.1,66.3 93.0,72.0 C93.9,77.7 95.2,85.8 95.6,88.5"/><path d="M98.9,61.0 C99.1,62.5 99.7,66.7 100.0,70.0 C100.3,73.3 100.8,79.1 101.0,80.9"/><path d="M112.0,50.2 C111.8,52.8 111.4,60.5 111.0,66.0 C110.6,71.5 110.0,80.2 109.8,83.0"/><path d="M120.8,51.3 C120.8,54.1 121.0,62.2 121.0,68.0 C121.0,73.8 120.8,83.2 120.8,86.3"/><path d="M94.5,89.6 C95.8,88.7 99.4,84.6 102.0,84.0 C104.6,83.4 107.0,86.0 110.0,86.0 C113.0,86.0 118.1,84.3 119.7,84.0"/><path d="M121.0,18.0 C121.2,20.7 122.0,28.7 122.0,34.0 C122.0,39.3 121.2,47.3 121.0,50.0"/><path d="M16.0,56.0 C15.8,58.7 14.8,66.7 15.0,72.0 C15.2,77.3 16.7,85.3 17.0,88.0"/><path d="M56.0,90.0 C57.7,90.3 62.7,92.0 66.0,92.0 C69.3,92.0 74.3,90.3 76.0,90.0"/><path d="M84.0,60.0 C84.3,62.5 85.3,70.0 86.0,75.0 C86.7,80.0 87.7,87.5 88.0,90.0"/><path d="M60.0,16.0 C60.7,18.3 62.3,25.3 64.0,30.0 C65.7,34.7 69.0,41.7 70.0,44.0"/><path d="M74.0,14.0 C73.0,16.3 70.0,23.7 68.0,28.0 C66.0,32.3 63.0,38.0 62.0,40.0"/><path d="M102.0,60.0 C102.7,62.0 104.3,67.7 106.0,72.0 C107.7,76.3 111.0,83.7 112.0,86.0"/><path d="M116.0,58.0 C115.7,60.3 114.0,67.0 114.0,72.0 C114.0,77.0 115.7,85.3 116.0,88.0"/></g><g filter="url(#bl2)" fill="none"><path d="M18,54 C16,66 15.5,80 19,87 C26,90 38,90 42.5,86 C44,76 44,62 43,54.5 C34,52.5 24,52.5 18,54 Z" stroke="#2040d8" stroke-width="4.5" opacity="0.9"/><path d="M92,19 C91,28 91,42 92,50 C102,52 112,52 118.5,48 C120,38 120,27 118,18.5 C110,15 99,15 92,19 Z" stroke="#2448e4" stroke-width="4.5" opacity="0.9"/><path d="M17,53.5 C50,52.5 90,52.5 122,52.5" stroke="#2244d8" stroke-width="7" opacity="0.75"/></g><g filter="url(#bl)" stroke="#2c4cf0" stroke-width="0.9" fill="none" stroke-linecap="round" opacity="0.7"><path d="M15.9,36.5 C15.9,35.4 16.0,31.9 16.2,30.2 C16.5,28.6 16.4,28.0 17.3,26.5 C18.2,25.0 20.3,23.2 21.5,21.5 C22.7,19.7 22.6,17.0 24.3,16.2 C26.1,15.4 29.3,16.9 32.0,16.8 C34.7,16.6 39.3,15.5 40.7,15.3"/><path d="M16.2,34.8 C16.4,34.1 17.4,32.5 17.4,30.8 C17.3,29.2 15.8,26.7 16.1,25.1 C16.3,23.4 17.4,22.4 18.9,21.0 C20.4,19.7 23.1,17.9 25.3,17.1 C27.6,16.2 30.0,16.6 32.3,16.1 C34.5,15.5 37.7,14.2 38.8,13.9"/><path d="M16.7,34.8 C16.7,34.2 16.7,32.8 16.6,31.2 C16.6,29.6 16.1,26.9 16.5,25.2 C16.9,23.6 17.9,22.7 19.0,21.3 C20.1,19.9 21.0,17.7 23.0,16.8 C25.0,15.9 28.3,16.2 31.2,15.9 C34.0,15.7 38.6,15.2 40.1,15.1"/><path d="M39.5,14.0 C39.6,14.9 39.8,18.5 40.1,19.7 C40.3,20.9 40.7,19.1 41.0,21.3 C41.2,23.5 41.3,29.3 41.6,33.0 C41.8,36.6 42.2,41.2 42.4,43.2 C42.6,45.3 42.9,44.2 42.9,45.2 C42.9,46.3 42.5,48.8 42.4,49.5"/><path d="M40.5,13.8 C40.6,14.8 40.8,18.4 41.0,19.6 C41.3,20.8 41.8,18.4 42.1,20.8 C42.4,23.2 43.0,30.2 42.8,34.2 C42.5,38.1 40.9,42.8 40.5,44.7 C40.1,46.6 40.1,44.5 40.4,45.4 C40.7,46.2 42.1,49.2 42.4,49.9"/><path d="M40.7,15.2 C40.7,15.6 40.3,16.4 40.5,17.7 C40.7,19.1 41.6,20.6 41.8,23.3 C42.1,26.0 42.2,30.4 42.0,33.9 C41.8,37.4 40.7,42.6 40.8,44.5 C40.8,46.4 42.0,44.7 42.2,45.3 C42.5,46.0 42.5,47.9 42.5,48.4"/><path d="M15.6,34.8 C16.0,35.7 17.2,38.7 18.0,40.5 C18.7,42.3 19.6,44.0 19.9,45.6 C20.3,47.2 20.1,49.1 20.2,50.2 C20.2,51.3 20.2,51.9 20.2,52.2"/><path d="M17.2,36.4 C17.1,37.4 16.3,40.5 16.5,42.3 C16.6,44.1 17.7,45.9 18.2,47.2 C18.7,48.6 19.1,49.7 19.3,50.6 C19.6,51.6 19.7,52.6 19.8,53.0"/><path d="M15.2,35.5 C15.7,36.6 17.3,40.0 18.0,41.8 C18.7,43.6 19.2,44.8 19.5,46.2 C19.9,47.6 20.2,49.5 20.2,50.3 C20.1,51.1 19.2,50.9 19.0,51.0"/><path d="M51.7,14.4 C51.8,15.6 52.0,18.6 52.1,21.3 C52.1,24.1 52.0,28.6 52.0,30.9 C52.1,33.1 52.2,33.2 52.4,34.8 C52.5,36.4 52.4,39.1 52.9,40.6 C53.3,42.1 54.7,42.7 55.1,43.6 C55.6,44.6 55.3,45.8 55.3,46.3"/><path d="M52.4,13.7 C52.5,15.2 53.3,20.0 53.0,22.7 C52.8,25.4 51.1,28.2 51.0,30.0 C50.8,31.9 51.6,32.1 51.9,33.9 C52.2,35.7 52.1,39.5 52.6,40.8 C53.1,42.0 54.6,40.8 55.1,41.6 C55.5,42.4 55.3,45.0 55.3,45.6"/><path d="M52.6,13.0 C52.3,14.4 51.0,19.1 50.8,21.7 C50.6,24.3 51.0,26.3 51.3,28.7 C51.6,31.1 52.2,34.2 52.6,36.1 C52.9,38.0 53.2,38.9 53.4,40.1 C53.5,41.2 52.8,41.8 53.3,42.9 C53.8,44.0 55.9,46.1 56.4,46.7"/><path d="M52.5,38.1 C53.3,37.9 56.1,37.1 57.5,36.5 C58.9,36.0 59.6,35.4 60.7,34.9 C61.7,34.4 63.0,33.9 63.6,33.5 C64.3,33.1 64.4,32.8 64.6,32.7"/><path d="M52.5,40.2 C53.1,39.8 54.8,38.4 56.0,37.7 C57.2,36.9 58.7,36.1 59.7,35.7 C60.6,35.2 60.7,35.7 61.9,35.0 C63.2,34.3 66.1,32.1 66.9,31.6"/><path d="M53.6,40.2 C54.1,39.5 55.7,36.8 56.8,36.1 C58.0,35.4 59.6,35.9 60.7,35.8 C61.7,35.6 62.2,35.7 63.2,35.2 C64.3,34.8 66.3,33.6 67.0,33.3"/><path d="M69.1,18.7 C68.1,19.7 64.9,22.8 63.4,24.9 C61.9,27.0 61.0,29.4 60.1,31.3 C59.1,33.1 58.6,34.2 57.8,36.1 C57.0,38.1 55.6,41.7 55.1,42.8"/><path d="M67.6,20.4 C67.1,21.1 65.6,23.1 64.2,24.6 C62.9,26.0 60.9,27.2 59.5,29.0 C58.2,30.8 56.9,33.4 56.0,35.3 C55.1,37.2 54.5,39.6 54.2,40.4"/><path d="M67.9,19.3 C67.4,20.3 66.4,23.7 65.1,25.6 C63.9,27.6 61.9,29.5 60.5,31.0 C59.1,32.5 57.7,33.1 56.8,34.7 C55.9,36.4 55.4,39.8 55.1,40.8"/><path d="M61.4,13.8 C61.8,13.5 63.5,12.5 64.1,12.3 C64.7,12.0 64.0,12.4 64.9,12.4 C65.8,12.3 68.2,11.5 69.5,11.8 C70.9,12.1 72.6,13.9 73.2,14.3"/><path d="M60.5,15.3 C61.2,14.8 63.3,12.5 64.4,12.0 C65.4,11.6 65.8,12.7 66.6,12.7 C67.5,12.7 68.7,12.0 69.6,12.1 C70.6,12.1 71.7,13.0 72.1,13.2"/><path d="M61.0,12.7 C61.3,12.7 61.7,12.8 62.7,12.5 C63.6,12.2 66.0,11.1 66.8,10.9 C67.7,10.8 67.1,11.1 67.8,11.4 C68.5,11.7 70.4,12.6 70.9,12.8"/><path d="M73.0,12.6 C73.2,13.0 73.1,14.4 73.9,15.0 C74.6,15.6 76.4,14.9 77.5,16.2 C78.7,17.5 79.8,20.5 80.7,22.9 C81.5,25.2 82.1,27.4 82.7,30.3 C83.2,33.3 83.6,37.3 84.0,40.7 C84.4,44.1 84.9,49.0 85.1,50.7"/><path d="M71.4,13.0 C72.1,13.4 74.6,14.6 75.8,15.3 C77.0,16.0 77.8,15.7 78.6,17.0 C79.5,18.3 80.3,21.2 80.9,23.1 C81.5,25.1 82.1,25.8 82.4,28.7 C82.7,31.6 82.5,36.9 82.9,40.6 C83.4,44.3 84.8,49.3 85.2,51.0"/><path d="M71.8,12.2 C72.5,12.7 75.2,14.5 76.1,14.9 C77.0,15.4 76.3,13.3 77.1,14.7 C78.0,16.1 80.4,20.4 81.1,23.2 C81.7,26.0 80.5,28.5 80.9,31.4 C81.3,34.3 82.6,37.7 83.2,40.7 C83.9,43.7 84.6,47.9 84.9,49.3"/><path d="M77.1,15.0 C76.9,16.3 76.2,20.4 75.8,22.8 C75.4,25.1 75.4,26.3 74.8,28.9 C74.2,31.6 72.9,35.5 72.2,38.7 C71.5,41.8 70.9,46.2 70.6,47.7"/><path d="M78.3,16.9 C77.7,18.1 75.4,21.8 74.6,23.9 C73.8,25.9 73.4,26.8 73.2,29.3 C73.0,31.7 73.7,35.5 73.4,38.4 C73.0,41.4 71.5,45.4 71.2,46.8"/><path d="M76.1,15.0 C76.2,16.1 77.0,19.3 76.7,21.7 C76.3,24.0 74.6,26.5 74.1,29.2 C73.6,31.9 74.0,34.4 73.6,37.6 C73.2,40.9 72.0,46.8 71.6,48.7"/><path d="M52.4,55.8 C52.5,57.1 52.9,61.4 53.2,64.0 C53.5,66.5 53.8,68.3 54.1,70.8 C54.3,73.4 54.8,76.7 54.9,79.4 C55.0,82.0 54.8,85.7 54.8,87.0"/><path d="M52.6,55.1 C52.6,56.5 52.5,60.7 52.5,63.3 C52.6,65.9 52.3,68.0 52.7,70.8 C53.1,73.6 54.6,77.2 54.8,80.1 C55.1,82.9 54.1,86.7 54.0,88.0"/><path d="M54.6,54.7 C54.2,56.4 52.8,61.6 52.4,64.5 C52.1,67.3 52.0,69.3 52.3,72.0 C52.6,74.8 54.2,78.4 54.2,81.0 C54.2,83.6 52.9,86.6 52.6,87.7"/><path d="M59.5,60.2 C59.5,61.6 59.1,65.7 59.7,68.2 C60.3,70.7 62.5,73.4 63.3,75.1 C64.1,76.9 63.9,77.8 64.5,78.9 C65.1,80.0 66.5,81.3 67.0,81.8"/><path d="M60.0,58.8 C60.3,60.4 61.4,65.9 61.8,68.5 C62.3,71.1 62.0,72.8 62.6,74.5 C63.1,76.1 64.8,77.1 65.3,78.3 C65.8,79.5 65.5,81.1 65.5,81.7"/><path d="M59.2,59.3 C59.7,60.4 61.5,63.7 62.1,66.3 C62.8,68.8 62.7,72.7 63.0,74.7 C63.4,76.7 63.5,77.6 64.2,78.5 C64.9,79.4 66.6,79.8 67.1,80.1"/><path d="M64.9,80.9 C65.8,81.6 68.9,83.8 70.7,85.0 C72.6,86.3 75.0,87.9 75.9,88.5"/><path d="M66.2,79.6 C67.0,80.5 69.2,83.1 70.8,84.9 C72.5,86.7 75.0,89.5 75.9,90.5"/><path d="M67.1,79.6 C68.0,80.4 70.6,82.9 72.4,84.3 C74.1,85.8 76.8,87.7 77.6,88.4"/><path d="M70.7,59.2 C70.3,60.2 68.8,62.4 68.3,65.1 C67.8,67.7 67.8,72.5 67.6,75.0 C67.3,77.5 67.2,77.8 66.8,80.0 C66.4,82.3 65.4,87.2 65.1,88.7"/><path d="M71.3,59.3 C70.7,60.5 68.8,64.3 68.0,66.6 C67.3,68.9 67.0,70.9 66.7,73.1 C66.3,75.4 66.7,77.8 66.1,80.3 C65.5,82.7 63.7,86.4 63.2,87.6"/><path d="M69.9,59.2 C69.8,60.3 69.4,63.8 69.2,66.2 C69.0,68.5 69.0,70.5 68.6,73.1 C68.2,75.7 67.5,79.3 66.8,81.7 C66.2,84.2 65.2,86.8 64.9,87.9"/><path d="M80.3,57.8 C80.2,59.0 79.7,62.7 79.8,64.9 C79.9,67.1 81.0,69.2 80.9,71.1 C80.7,73.0 79.0,74.3 78.9,76.2 C78.8,78.0 79.9,81.2 80.1,82.2"/><path d="M80.7,58.5 C80.7,59.3 81.1,61.3 80.9,63.1 C80.8,65.0 79.9,67.8 79.8,69.9 C79.7,72.0 80.7,74.1 80.4,75.8 C80.2,77.5 78.6,79.3 78.3,80.0"/><path d="M78.9,59.7 C79.2,60.4 80.7,62.4 80.7,64.1 C80.7,65.9 79.2,68.3 78.8,70.2 C78.5,72.1 78.5,73.8 78.5,75.5 C78.5,77.2 78.6,79.6 78.7,80.4"/><path d="M90.5,53.9 C90.6,55.5 90.4,60.6 91.0,63.5 C91.6,66.3 93.8,68.3 94.2,71.0 C94.7,73.7 93.6,76.7 93.8,79.6 C93.9,82.5 94.9,87.0 95.1,88.5"/><path d="M90.9,53.7 C91.1,55.3 91.7,60.1 92.1,63.1 C92.5,66.2 92.8,69.3 93.2,72.0 C93.6,74.7 94.1,76.6 94.6,79.4 C95.0,82.1 95.7,86.7 95.9,88.2"/><path d="M90.8,54.9 C90.9,56.5 91.0,62.0 91.2,64.7 C91.5,67.3 91.8,68.0 92.1,70.6 C92.4,73.3 92.9,77.7 93.2,80.8 C93.6,83.9 94.3,87.8 94.5,89.2"/><path d="M97.7,60.4 C98.1,61.1 99.4,62.3 99.8,64.2 C100.1,66.0 99.6,69.6 99.8,71.4 C100.0,73.2 100.7,73.5 101.1,75.1 C101.5,76.8 102.0,80.1 102.1,81.1"/><path d="M99.8,60.6 C99.7,61.5 99.0,64.4 99.1,66.1 C99.3,67.7 100.7,69.0 100.7,70.5 C100.8,72.1 99.6,73.6 99.5,75.2 C99.5,76.8 100.3,79.3 100.5,80.1"/><path d="M97.8,61.7 C97.9,62.3 98.3,63.6 98.4,65.1 C98.6,66.6 98.3,69.0 98.7,70.6 C99.1,72.1 100.2,72.3 100.9,74.3 C101.5,76.2 102.0,80.9 102.3,82.3"/><path d="M112.7,51.1 C112.6,52.0 112.5,54.4 112.1,56.8 C111.7,59.1 110.9,62.2 110.4,65.3 C109.9,68.3 109.1,72.0 109.1,74.9 C109.0,77.8 109.9,81.3 110.1,82.6"/><path d="M112.7,49.5 C112.4,50.7 111.3,54.1 110.9,57.0 C110.5,59.9 110.3,64.0 110.3,67.0 C110.2,70.0 110.3,72.4 110.4,75.2 C110.5,77.9 110.8,82.1 110.8,83.5"/><path d="M111.6,51.5 C111.4,52.6 110.2,55.4 110.3,57.9 C110.4,60.4 112.1,63.6 112.1,66.5 C112.0,69.4 110.2,72.6 110.0,75.4 C109.7,78.3 110.4,82.3 110.5,83.6"/><path d="M120.1,51.8 C120.3,53.3 121.2,57.7 121.3,60.6 C121.5,63.5 121.0,66.6 121.0,69.2 C121.1,71.8 121.5,73.6 121.5,76.3 C121.5,79.0 121.1,83.9 121.0,85.4"/><path d="M121.1,50.8 C121.3,52.2 122.2,56.2 122.3,59.2 C122.4,62.2 122.1,65.9 121.8,68.9 C121.5,72.0 120.8,74.6 120.5,77.4 C120.3,80.2 120.1,84.5 120.1,86.0"/><path d="M120.6,51.9 C120.7,53.0 120.8,56.0 120.9,58.7 C121.1,61.4 121.4,65.0 121.4,68.0 C121.4,71.1 120.9,73.9 121.0,77.0 C121.0,80.1 121.7,85.1 121.8,86.7"/><path d="M95.0,89.6 C95.5,89.1 96.7,87.6 98.0,86.6 C99.2,85.6 101.4,84.2 102.5,83.8 C103.6,83.4 103.8,84.1 104.8,84.2 C105.8,84.4 107.1,84.7 108.7,84.7 C110.4,84.8 112.7,84.9 114.5,84.7 C116.3,84.4 118.7,83.4 119.6,83.2"/><path d="M93.8,89.5 C94.4,88.9 96.3,86.9 97.7,86.1 C99.0,85.3 100.8,85.2 102.0,84.7 C103.2,84.3 103.5,83.2 104.8,83.6 C106.1,84.0 108.1,86.9 109.9,87.1 C111.6,87.3 113.4,85.1 115.2,84.6 C117.1,84.2 120.1,84.5 121.0,84.5"/><path d="M95.4,90.6 C95.7,89.8 95.7,87.1 97.0,85.9 C98.2,84.8 101.1,84.1 102.8,83.7 C104.5,83.3 105.7,83.4 107.1,83.8 C108.5,84.2 110.0,86.0 111.2,86.3 C112.5,86.7 113.2,86.3 114.6,85.9 C116.0,85.5 118.9,84.2 119.8,83.9"/><path d="M120.1,18.8 C120.2,19.9 120.4,23.1 120.5,25.4 C120.6,27.7 120.8,30.1 120.8,32.6 C120.9,35.2 120.9,37.9 120.9,40.7 C120.9,43.5 120.9,48.1 120.9,49.6"/><path d="M119.7,17.9 C119.9,19.1 120.5,22.6 120.9,25.2 C121.3,27.9 122.2,30.5 122.1,33.5 C122.0,36.5 120.2,40.6 120.3,43.2 C120.3,45.8 122.0,48.3 122.3,49.3"/><path d="M121.4,18.2 C121.3,19.5 120.8,23.6 120.8,26.1 C120.8,28.6 121.2,30.9 121.3,33.4 C121.4,35.8 121.6,37.7 121.4,40.7 C121.2,43.7 120.4,49.6 120.2,51.4"/><path d="M16.8,55.5 C16.8,56.9 17.0,60.9 16.9,63.5 C16.8,66.2 15.9,68.8 16.0,71.5 C16.0,74.2 16.8,77.3 17.1,79.9 C17.4,82.4 17.9,85.8 18.0,87.0"/><path d="M15.7,55.6 C15.8,57.1 16.6,62.3 16.3,65.0 C16.0,67.7 14.2,69.5 14.0,71.7 C13.8,74.0 14.8,76.3 15.1,78.8 C15.4,81.3 15.8,85.5 16.0,86.8"/><path d="M15.4,55.8 C15.6,57.2 16.6,61.8 16.6,64.4 C16.7,67.0 15.9,69.0 15.7,71.5 C15.5,74.1 15.4,77.2 15.5,79.8 C15.6,82.3 16.1,85.5 16.3,86.7"/><path d="M55.4,91.2 C56.1,91.2 58.1,90.8 59.7,91.0 C61.4,91.3 63.6,92.7 65.2,92.7 C66.9,92.7 67.8,91.5 69.7,91.0 C71.6,90.6 75.5,90.1 76.6,89.9"/><path d="M55.0,91.1 C55.8,91.3 57.7,91.9 59.7,92.2 C61.6,92.5 64.8,93.3 66.9,93.1 C69.0,92.8 70.4,91.2 72.0,90.6 C73.6,90.1 75.6,90.0 76.4,89.9"/><path d="M56.2,89.7 C57.2,89.8 60.3,90.3 62.0,90.5 C63.6,90.6 64.9,90.5 66.2,90.8 C67.5,91.1 68.2,92.3 69.8,92.1 C71.3,91.9 74.6,90.1 75.6,89.6"/><path d="M85.4,60.6 C85.1,61.8 83.9,65.2 84.0,67.6 C84.1,70.1 85.6,72.9 86.0,75.3 C86.3,77.7 85.8,79.4 86.4,81.9 C86.9,84.4 88.8,88.9 89.2,90.3"/><path d="M84.1,60.5 C84.4,61.5 85.3,64.2 85.7,66.6 C86.1,69.0 86.7,72.4 86.8,75.0 C86.8,77.5 85.6,79.3 86.0,82.0 C86.5,84.7 88.8,89.5 89.4,91.0"/><path d="M85.1,60.0 C85.2,61.2 85.1,64.7 85.4,67.2 C85.6,69.7 86.5,72.3 86.7,75.1 C86.9,77.9 86.4,81.6 86.6,83.8 C86.8,86.1 87.8,87.9 88.0,88.7"/><path d="M60.9,14.9 C61.0,16.2 61.0,20.4 61.4,22.9 C61.8,25.4 62.3,27.5 63.2,29.9 C64.1,32.2 65.6,34.6 66.8,37.1 C68.0,39.5 69.8,43.3 70.4,44.5"/><path d="M58.7,15.3 C59.1,16.5 60.1,19.9 60.9,22.5 C61.8,25.2 63.1,28.4 63.9,31.0 C64.7,33.5 64.8,35.6 65.6,37.9 C66.5,40.2 68.5,43.5 69.0,44.7"/><path d="M61.0,17.4 C61.2,18.1 61.8,19.7 62.2,21.8 C62.6,23.8 62.5,27.1 63.4,29.8 C64.3,32.6 66.2,36.2 67.5,38.3 C68.8,40.5 70.5,42.0 71.1,42.8"/><path d="M73.0,14.4 C72.5,15.6 71.0,19.0 70.2,21.2 C69.4,23.5 69.0,25.8 68.0,28.1 C67.1,30.4 65.7,33.2 64.6,35.1 C63.5,37.1 61.9,38.9 61.4,39.6"/><path d="M73.1,13.4 C72.5,14.7 71.0,19.1 70.0,21.4 C68.9,23.7 67.3,25.0 66.7,27.3 C66.0,29.5 66.7,32.8 65.9,35.0 C65.0,37.2 62.3,39.7 61.6,40.7"/><path d="M74.9,14.4 C74.3,15.6 72.6,19.5 71.3,21.7 C70.1,23.9 68.7,25.6 67.5,27.5 C66.3,29.4 65.2,31.1 64.3,33.2 C63.4,35.3 62.4,39.0 62.0,40.1"/><path d="M101.1,58.8 C101.4,59.9 102.0,62.9 102.7,65.2 C103.3,67.4 103.8,70.0 105.0,72.3 C106.2,74.7 108.6,76.9 109.9,79.1 C111.1,81.3 112.0,84.7 112.4,85.8"/><path d="M100.8,60.7 C101.5,61.4 104.0,63.0 104.7,65.0 C105.5,67.0 104.7,70.3 105.5,72.5 C106.3,74.7 108.5,75.9 109.6,78.1 C110.6,80.3 111.3,84.4 111.7,85.7"/><path d="M102.1,60.9 C102.3,61.7 102.2,64.0 103.0,65.7 C103.9,67.4 106.3,68.7 107.2,71.1 C108.0,73.5 107.2,77.3 108.1,79.8 C109.0,82.3 111.6,84.9 112.3,85.9"/><path d="M115.9,56.8 C115.8,58.0 115.7,61.6 115.4,64.3 C115.1,67.1 113.9,70.6 113.8,73.2 C113.8,75.8 114.7,77.3 115.0,79.7 C115.3,82.1 115.5,86.1 115.6,87.4"/><path d="M116.3,58.6 C115.9,59.4 114.4,61.5 113.9,63.6 C113.5,65.7 113.5,68.5 113.7,71.1 C113.9,73.6 114.9,76.2 115.3,79.1 C115.7,81.9 115.9,86.4 116.0,87.9"/><path d="M117.3,57.5 C116.8,58.7 114.8,62.2 114.3,64.5 C113.9,66.8 114.5,68.6 114.4,71.3 C114.4,73.9 114.0,78.0 114.3,80.6 C114.5,83.2 115.8,85.8 116.1,86.8"/></g><g filter="url(#bl)" fill="#3458f4" opacity="0.5"><circle cx="16.4" cy="36.0" r="1.6"/><circle cx="39.4" cy="14.8" r="1.1"/><circle cx="39.4" cy="14.8" r="1.2"/><circle cx="41.6" cy="49.3" r="1.4"/><circle cx="16.4" cy="36.0" r="1.3"/><circle cx="20.0" cy="52.0" r="1.5"/><circle cx="51.5" cy="13.1" r="1.1"/><circle cx="56.0" cy="46.0" r="1.5"/><circle cx="52.6" cy="39.4" r="1.1"/><circle cx="65.7" cy="32.9" r="1.1"/><circle cx="67.9" cy="19.7" r="1.5"/><circle cx="54.8" cy="41.6" r="1.5"/><circle cx="60.0" cy="14.0" r="1.1"/><circle cx="72.0" cy="13.0" r="1.0"/><circle cx="72.0" cy="13.0" r="1.1"/><circle cx="84.0" cy="50.0" r="1.4"/><circle cx="77.0" cy="15.9" r="1.0"/><circle cx="72.0" cy="48.0" r="1.7"/><circle cx="53.7" cy="56.0" r="1.0"/><circle cx="54.0" cy="88.0" r="1.5"/><circle cx="60.0" cy="60.0" r="1.6"/><circle cx="66.0" cy="80.9" r="1.3"/><circle cx="66.0" cy="80.9" r="1.6"/><circle cx="77.0" cy="89.6" r="1.1"/><circle cx="70.0" cy="58.0" r="1.5"/><circle cx="64.0" cy="88.0" r="1.4"/><circle cx="80.2" cy="59.0" r="1.6"/><circle cx="79.1" cy="80.9" r="1.6"/><circle cx="90.0" cy="54.6" r="1.6"/><circle cx="95.6" cy="88.5" r="1.6"/><circle cx="98.9" cy="61.0" r="1.2"/><circle cx="101.0" cy="80.9" r="1.0"/><circle cx="112.0" cy="50.2" r="1.1"/><circle cx="109.8" cy="83.0" r="1.5"/><circle cx="120.8" cy="51.3" r="1.4"/><circle cx="120.8" cy="86.3" r="1.3"/><circle cx="94.5" cy="89.6" r="1.3"/><circle cx="119.7" cy="84.0" r="1.0"/><circle cx="121.0" cy="18.0" r="1.6"/><circle cx="121.0" cy="50.0" r="1.4"/><circle cx="16.0" cy="56.0" r="1.4"/><circle cx="17.0" cy="88.0" r="1.3"/><circle cx="56.0" cy="90.0" r="1.6"/><circle cx="76.0" cy="90.0" r="1.3"/><circle cx="84.0" cy="60.0" r="1.4"/><circle cx="88.0" cy="90.0" r="1.6"/><circle cx="60.0" cy="16.0" r="1.1"/><circle cx="70.0" cy="44.0" r="1.6"/><circle cx="74.0" cy="14.0" r="1.4"/><circle cx="62.0" cy="40.0" r="1.2"/><circle cx="102.0" cy="60.0" r="1.1"/><circle cx="112.0" cy="86.0" r="1.4"/><circle cx="116.0" cy="58.0" r="1.2"/><circle cx="116.0" cy="88.0" r="1.0"/></g><g filter="url(#bl)" fill="none" stroke-linecap="round"><path d="M18,54 C16,66 15.5,80 19,87 C26,90 38,90 42.5,86 C44,76 44,62 43,54.5 C34,52.5 24,52.5 18,54 Z" stroke="#3a80f0" stroke-width="1.5" opacity="0.9"/><path d="M92,19 C91,28 91,42 92,50 C102,52 112,52 118.5,48 C120,38 120,27 118,18.5 C110,15 99,15 92,19 Z" stroke="#3a90e0" stroke-width="1.6" opacity="0.9"/><path d="M17.5,55 C16.5,60 16.2,66 16.5,72" stroke="#50c850" stroke-width="2" opacity="0.85"/><path d="M91.5,20 C91,26 91,32 91.2,38" stroke="#50c850" stroke-width="2" opacity="0.8"/><path d="M119.5,34 C120,40 119.5,45 118,48" stroke="#50c850" stroke-width="1.8" opacity="0.7"/><path d="M108,16.5 C112,17 116,17.5 118,19" stroke="#48c080" stroke-width="1.5" opacity="0.6"/><path d="M17,50.5 C50,50 90,50 120,50.5" stroke="#3060f0" stroke-width="0.9" opacity="0.6"/><path d="M17,55.5 C50,56 90,55.5 120,55" stroke="#3060f0" stroke-width="0.9" opacity="0.6"/><path d="M30,53 C50,52 80,52 106,51.5" stroke="#3a78f0" stroke-width="1.2" opacity="0.8"/></g><g filter="url(#bl)"><circle cx="18.5" cy="56" r="2" fill="#50c840"/><circle cx="19.2" cy="58.4" r="1.1" fill="#e06020"/><circle cx="18.2" cy="61" r="1.6" fill="#48c040"/><circle cx="43.8" cy="54.6" r="3" fill="#50c840"/><circle cx="39" cy="54" r="2" fill="#50c840"/><circle cx="52.6" cy="54.6" r="2" fill="#48c040"/><circle cx="34" cy="86.5" r="1.5" fill="#48c040"/><circle cx="26.8" cy="83" r="1.6" fill="#40c840"/><circle cx="20.3" cy="88" r="1.2" fill="#40c040"/><circle cx="82" cy="52.2" r="3.4" fill="#50c838"/><circle cx="87.5" cy="52.4" r="3" fill="#60c830"/><circle cx="91.2" cy="52.4" r="1.4" fill="#e05020"/><circle cx="80.5" cy="59.5" r="1.6" fill="#40c040"/><circle cx="93.4" cy="22.5" r="2" fill="#40c040"/><circle cx="93.4" cy="22.5" r="1" fill="#e05020"/><circle cx="113.1" cy="43.8" r="1.8" fill="#40c840"/><circle cx="119.7" cy="40.5" r="1.4" fill="#40c840"/><circle cx="77" cy="15.9" r="1.3" fill="#40c040"/><circle cx="119.7" cy="84" r="1.1" fill="#40c040"/><circle cx="106.5" cy="51.3" r="1.4" fill="#40b8e0"/></g><text font-size="20" font-weight="700" fill="#f6f2e8" stroke="#f6f2e8" stroke-width="0.4" text-anchor="middle" transform="translate(32,77.2) scale(0.8,1)">C</text><text font-size="19.5" font-weight="700" fill="#ee1020" stroke="#ee1020" stroke-width="0.7" text-anchor="middle" transform="translate(104.9,42.7) scale(0.78,1)">M</text></g>
<rect x="100.6" y="262.6" width="122" height="27.6" fill="#dcdbd6"/>
<rect x="222.6" y="262.6" width="123" height="27.6" fill="#a6c3e8"/>
<rect x="345.6" y="262.6" width="122" height="27.6" fill="#dcdbd6"/>
<rect x="100.6" y="262.6" width="490" height="27.6" fill="none" stroke="#231815" stroke-width="1.3"/>
<path d="M222.6,262.6 V290.2 M345.6,262.6 V290.2 M467.6,262.6 V290.2" stroke="#231815" stroke-width="1.3"/>
<text transform="translate(76.37,256.9) scale(0.8337,1)" font-size="19" font-weight="400" fill="#231815">0 min</text>
<text transform="translate(202.68,256.9) scale(0.8270,1)" font-size="19" font-weight="400" fill="#231815">3 min</text>
<text transform="translate(325.47,256.9) scale(0.8316,1)" font-size="19" font-weight="400" fill="#231815">6 min</text>
<text transform="translate(444.76,256.9) scale(0.8384,1)" font-size="19" font-weight="400" fill="#231815">9 min</text>
<text transform="translate(562.79,256.9) scale(0.8092,1)" font-size="19" font-weight="400" fill="#231815">12 min</text>
<text transform="translate(125.68,282.9) scale(0.8109,1)" font-size="19" font-weight="400" fill="#231815">Light OFF</text>
<text transform="translate(253.25,282.9) scale(0.8306,1)" font-size="19" font-weight="400" fill="#231815">Light ON</text>
<text transform="translate(372.18,282.9) scale(0.8122,1)" font-size="19" font-weight="400" fill="#231815">Light OFF</text>
<text transform="translate(496.36,282.9) scale(0.8250,1)" font-size="19" font-weight="400" fill="#231815">Light ON</text>
<rect x="227" y="332" width="122.6" height="239.5" fill="#d6e8f7"/>
<rect x="462.2" y="332.2" width="124.8" height="240" fill="#d6e8f7"/>
<g fill="#111"><rect x="225.9" y="332.0" width="1.2" height="1.2"/><rect x="349.8" y="332.0" width="1.2" height="1.2"/><rect x="225.9" y="334.9" width="1.2" height="1.2"/><rect x="349.8" y="334.9" width="1.2" height="1.2"/><rect x="225.9" y="337.0" width="1.2" height="1.2"/><rect x="349.8" y="337.0" width="1.2" height="1.2"/><rect x="225.9" y="339.9" width="1.2" height="1.2"/><rect x="349.8" y="339.9" width="1.2" height="1.2"/><rect x="225.9" y="342.9" width="1.2" height="1.2"/><rect x="349.8" y="342.9" width="1.2" height="1.2"/><rect x="225.9" y="345.0" width="1.2" height="1.2"/><rect x="349.8" y="345.0" width="1.2" height="1.2"/><rect x="225.9" y="347.9" width="1.2" height="1.2"/><rect x="349.8" y="347.9" width="1.2" height="1.2"/><rect x="225.9" y="350.0" width="1.2" height="1.2"/><rect x="349.8" y="350.0" width="1.2" height="1.2"/><rect x="225.9" y="352.9" width="1.2" height="1.2"/><rect x="349.8" y="352.9" width="1.2" height="1.2"/><rect x="225.9" y="355.9" width="1.2" height="1.2"/><rect x="349.8" y="355.9" width="1.2" height="1.2"/><rect x="225.9" y="358.0" width="1.2" height="1.2"/><rect x="349.8" y="358.0" width="1.2" height="1.2"/><rect x="225.9" y="360.9" width="1.2" height="1.2"/><rect x="349.8" y="360.9" width="1.2" height="1.2"/><rect x="225.9" y="363.0" width="1.2" height="1.2"/><rect x="349.8" y="363.0" width="1.2" height="1.2"/><rect x="225.9" y="365.9" width="1.2" height="1.2"/><rect x="349.8" y="365.9" width="1.2" height="1.2"/><rect x="225.9" y="368.9" width="1.2" height="1.2"/><rect x="349.8" y="368.9" width="1.2" height="1.2"/><rect x="225.9" y="371.0" width="1.2" height="1.2"/><rect x="349.8" y="371.0" width="1.2" height="1.2"/><rect x="225.9" y="373.9" width="1.2" height="1.2"/><rect x="349.8" y="373.9" width="1.2" height="1.2"/><rect x="225.9" y="376.0" width="1.2" height="1.2"/><rect x="349.8" y="376.0" width="1.2" height="1.2"/><rect x="225.9" y="378.9" width="1.2" height="1.2"/><rect x="349.8" y="378.9" width="1.2" height="1.2"/><rect x="225.9" y="381.9" width="1.2" height="1.2"/><rect x="349.8" y="381.9" width="1.2" height="1.2"/><rect x="225.9" y="384.0" width="1.2" height="1.2"/><rect x="349.8" y="384.0" width="1.2" height="1.2"/><rect x="225.9" y="386.9" width="1.2" height="1.2"/><rect x="349.8" y="386.9" width="1.2" height="1.2"/><rect x="225.9" y="389.0" width="1.2" height="1.2"/><rect x="349.8" y="389.0" width="1.2" height="1.2"/><rect x="225.9" y="391.9" width="1.2" height="1.2"/><rect x="349.8" y="391.9" width="1.2" height="1.2"/><rect x="225.9" y="394.9" width="1.2" height="1.2"/><rect x="349.8" y="394.9" width="1.2" height="1.2"/><rect x="225.9" y="397.0" width="1.2" height="1.2"/><rect x="349.8" y="397.0" width="1.2" height="1.2"/><rect x="225.9" y="399.9" width="1.2" height="1.2"/><rect x="349.8" y="399.9" width="1.2" height="1.2"/><rect x="225.9" y="402.0" width="1.2" height="1.2"/><rect x="349.8" y="402.0" width="1.2" height="1.2"/><rect x="225.9" y="404.9" width="1.2" height="1.2"/><rect x="349.8" y="404.9" width="1.2" height="1.2"/><rect x="225.9" y="407.9" width="1.2" height="1.2"/><rect x="349.8" y="407.9" width="1.2" height="1.2"/><rect x="225.9" y="410.0" width="1.2" height="1.2"/><rect x="349.8" y="410.0" width="1.2" height="1.2"/><rect x="225.9" y="412.9" width="1.2" height="1.2"/><rect x="349.8" y="412.9" width="1.2" height="1.2"/><rect x="225.9" y="415.0" width="1.2" height="1.2"/><rect x="349.8" y="415.0" width="1.2" height="1.2"/><rect x="225.9" y="417.9" width="1.2" height="1.2"/><rect x="349.8" y="417.9" width="1.2" height="1.2"/><rect x="225.9" y="420.9" width="1.2" height="1.2"/><rect x="349.8" y="420.9" width="1.2" height="1.2"/><rect x="225.9" y="423.0" width="1.2" height="1.2"/><rect x="349.8" y="423.0" width="1.2" height="1.2"/><rect x="225.9" y="425.9" width="1.2" height="1.2"/><rect x="349.8" y="425.9" width="1.2" height="1.2"/><rect x="225.9" y="428.0" width="1.2" height="1.2"/><rect x="349.8" y="428.0" width="1.2" height="1.2"/><rect x="225.9" y="430.9" width="1.2" height="1.2"/><rect x="349.8" y="430.9" width="1.2" height="1.2"/><rect x="225.9" y="433.9" width="1.2" height="1.2"/><rect x="349.8" y="433.9" width="1.2" height="1.2"/><rect x="225.9" y="436.0" width="1.2" height="1.2"/><rect x="349.8" y="436.0" width="1.2" height="1.2"/><rect x="225.9" y="438.9" width="1.2" height="1.2"/><rect x="349.8" y="438.9" width="1.2" height="1.2"/><rect x="225.9" y="441.0" width="1.2" height="1.2"/><rect x="349.8" y="441.0" width="1.2" height="1.2"/><rect x="225.9" y="443.9" width="1.2" height="1.2"/><rect x="349.8" y="443.9" width="1.2" height="1.2"/><rect x="225.9" y="446.9" width="1.2" height="1.2"/><rect x="349.8" y="446.9" width="1.2" height="1.2"/><rect x="225.9" y="449.0" width="1.2" height="1.2"/><rect x="349.8" y="449.0" width="1.2" height="1.2"/><rect x="225.9" y="451.9" width="1.2" height="1.2"/><rect x="349.8" y="451.9" width="1.2" height="1.2"/><rect x="225.9" y="454.0" width="1.2" height="1.2"/><rect x="349.8" y="454.0" width="1.2" height="1.2"/><rect x="225.9" y="456.9" width="1.2" height="1.2"/><rect x="349.8" y="456.9" width="1.2" height="1.2"/><rect x="225.9" y="459.9" width="1.2" height="1.2"/><rect x="349.8" y="459.9" width="1.2" height="1.2"/><rect x="225.9" y="462.0" width="1.2" height="1.2"/><rect x="349.8" y="462.0" width="1.2" height="1.2"/><rect x="225.9" y="464.9" width="1.2" height="1.2"/><rect x="349.8" y="464.9" width="1.2" height="1.2"/><rect x="225.9" y="467.0" width="1.2" height="1.2"/><rect x="349.8" y="467.0" width="1.2" height="1.2"/><rect x="225.9" y="469.9" width="1.2" height="1.2"/><rect x="349.8" y="469.9" width="1.2" height="1.2"/><rect x="225.9" y="472.9" width="1.2" height="1.2"/><rect x="349.8" y="472.9" width="1.2" height="1.2"/><rect x="225.9" y="475.0" width="1.2" height="1.2"/><rect x="349.8" y="475.0" width="1.2" height="1.2"/><rect x="225.9" y="477.9" width="1.2" height="1.2"/><rect x="349.8" y="477.9" width="1.2" height="1.2"/><rect x="225.9" y="480.0" width="1.2" height="1.2"/><rect x="349.8" y="480.0" width="1.2" height="1.2"/><rect x="225.9" y="482.9" width="1.2" height="1.2"/><rect x="349.8" y="482.9" width="1.2" height="1.2"/><rect x="225.9" y="485.9" width="1.2" height="1.2"/><rect x="349.8" y="485.9" width="1.2" height="1.2"/><rect x="225.9" y="488.0" width="1.2" height="1.2"/><rect x="349.8" y="488.0" width="1.2" height="1.2"/><rect x="225.9" y="490.9" width="1.2" height="1.2"/><rect x="349.8" y="490.9" width="1.2" height="1.2"/><rect x="225.9" y="493.0" width="1.2" height="1.2"/><rect x="349.8" y="493.0" width="1.2" height="1.2"/><rect x="225.9" y="495.9" width="1.2" height="1.2"/><rect x="349.8" y="495.9" width="1.2" height="1.2"/><rect x="225.9" y="498.9" width="1.2" height="1.2"/><rect x="349.8" y="498.9" width="1.2" height="1.2"/><rect x="225.9" y="501.0" width="1.2" height="1.2"/><rect x="349.8" y="501.0" width="1.2" height="1.2"/><rect x="225.9" y="503.9" width="1.2" height="1.2"/><rect x="349.8" y="503.9" width="1.2" height="1.2"/><rect x="225.9" y="506.0" width="1.2" height="1.2"/><rect x="349.8" y="506.0" width="1.2" height="1.2"/><rect x="225.9" y="508.9" width="1.2" height="1.2"/><rect x="349.8" y="508.9" width="1.2" height="1.2"/><rect x="225.9" y="511.9" width="1.2" height="1.2"/><rect x="349.8" y="511.9" width="1.2" height="1.2"/><rect x="225.9" y="514.0" width="1.2" height="1.2"/><rect x="349.8" y="514.0" width="1.2" height="1.2"/><rect x="225.9" y="516.9" width="1.2" height="1.2"/><rect x="349.8" y="516.9" width="1.2" height="1.2"/><rect x="225.9" y="519.0" width="1.2" height="1.2"/><rect x="349.8" y="519.0" width="1.2" height="1.2"/><rect x="225.9" y="521.9" width="1.2" height="1.2"/><rect x="349.8" y="521.9" width="1.2" height="1.2"/><rect x="225.9" y="524.9" width="1.2" height="1.2"/><rect x="349.8" y="524.9" width="1.2" height="1.2"/><rect x="225.9" y="527.0" width="1.2" height="1.2"/><rect x="349.8" y="527.0" width="1.2" height="1.2"/><rect x="225.9" y="529.9" width="1.2" height="1.2"/><rect x="349.8" y="529.9" width="1.2" height="1.2"/><rect x="225.9" y="532.0" width="1.2" height="1.2"/><rect x="349.8" y="532.0" width="1.2" height="1.2"/><rect x="225.9" y="534.9" width="1.2" height="1.2"/><rect x="349.8" y="534.9" width="1.2" height="1.2"/><rect x="225.9" y="537.9" width="1.2" height="1.2"/><rect x="349.8" y="537.9" width="1.2" height="1.2"/><rect x="225.9" y="540.0" width="1.2" height="1.2"/><rect x="349.8" y="540.0" width="1.2" height="1.2"/><rect x="225.9" y="542.9" width="1.2" height="1.2"/><rect x="349.8" y="542.9" width="1.2" height="1.2"/><rect x="225.9" y="545.0" width="1.2" height="1.2"/><rect x="349.8" y="545.0" width="1.2" height="1.2"/><rect x="225.9" y="547.9" width="1.2" height="1.2"/><rect x="349.8" y="547.9" width="1.2" height="1.2"/><rect x="225.9" y="550.9" width="1.2" height="1.2"/><rect x="349.8" y="550.9" width="1.2" height="1.2"/><rect x="225.9" y="553.0" width="1.2" height="1.2"/><rect x="349.8" y="553.0" width="1.2" height="1.2"/><rect x="225.9" y="555.9" width="1.2" height="1.2"/><rect x="349.8" y="555.9" width="1.2" height="1.2"/><rect x="225.9" y="558.0" width="1.2" height="1.2"/><rect x="349.8" y="558.0" width="1.2" height="1.2"/><rect x="225.9" y="560.9" width="1.2" height="1.2"/><rect x="349.8" y="560.9" width="1.2" height="1.2"/><rect x="225.9" y="563.9" width="1.2" height="1.2"/><rect x="349.8" y="563.9" width="1.2" height="1.2"/><rect x="225.9" y="566.0" width="1.2" height="1.2"/><rect x="349.8" y="566.0" width="1.2" height="1.2"/><rect x="225.9" y="568.9" width="1.2" height="1.2"/><rect x="349.8" y="568.9" width="1.2" height="1.2"/></g>
<text x="6" y="333" font-size="23" fill="#231815">f</text>
<text transform="translate(39.28,337) scale(0.8157,1)" font-size="20" font-weight="400" fill="#231815">1.5</text>
<text transform="translate(39.28,409) scale(0.8157,1)" font-size="20" font-weight="400" fill="#231815">1.0</text>
<text transform="translate(39.91,482) scale(0.7924,1)" font-size="20" font-weight="400" fill="#231815">0.5</text>
<text transform="translate(39.91,554) scale(0.7924,1)" font-size="20" font-weight="400" fill="#231815">0.0</text>
<path d="M68,330.5 H79.2 M68,402.5 H79 M68,475.2 H79 M68,547.6 H79.2 M78.5,329.8 V548.3" stroke="#231815" stroke-width="1.5" fill="none"/>
<text transform="translate(27.4,509.97) rotate(-90) scale(0.7702,1)" font-size="20" fill="#231815">Social preference ratio</text>
<path d="M101,571.4 H585" stroke="#231815" stroke-width="1.4"/>
<path d="M137.6,571 V581.8 M191.5,571 V581.8 M261.4,571 V581.8 M314.9,571 V581.8 M385.6,571 V581.8 M439.3,571 V581.8 M492.3,571 V581.8 M545.5,571 V581.8" stroke="#231815" stroke-width="1.3"/>
<text transform="translate(138.9,594.7) rotate(-45) scale(0.8,1)" font-size="19.5" text-anchor="end" fill="#231815">mCherry</text>
<text transform="translate(200.0,594.3) rotate(-45) scale(0.8,1)" font-size="19.5" text-anchor="end" fill="#231815">ChR2</text>
<text transform="translate(269.0,594.7) rotate(-45) scale(0.8,1)" font-size="19.5" text-anchor="end" fill="#231815">mCherry</text>
<text transform="translate(321.4,594.3) rotate(-45) scale(0.8,1)" font-size="19.5" text-anchor="end" fill="#231815">ChR2</text>
<text transform="translate(393.9,594.7) rotate(-45) scale(0.8,1)" font-size="19.5" text-anchor="end" fill="#231815">mCherry</text>
<text transform="translate(448.6,594.3) rotate(-45) scale(0.8,1)" font-size="19.5" text-anchor="end" fill="#231815">ChR2</text>
<text transform="translate(499.1,594.7) rotate(-45) scale(0.8,1)" font-size="19.5" text-anchor="end" fill="#231815">mCherry</text>
<text transform="translate(553.5,594.3) rotate(-45) scale(0.8,1)" font-size="19.5" text-anchor="end" fill="#231815">ChR2</text>
<rect x="120" y="455.9" width="36.0" height="91.9" fill="#b5d68b"/>
<rect x="173.2" y="450.6" width="35.8" height="97.2" fill="#c594c3"/>
<rect x="243.9" y="462.1" width="35.8" height="85.7" fill="#b5d68b"/>
<rect x="296.9" y="415.8" width="36.2" height="132.0" fill="#c594c3"/>
<rect x="368.3" y="458" width="35.6" height="89.8" fill="#b5d68b"/>
<rect x="421.1" y="453.1" width="35.6" height="94.7" fill="#c594c3"/>
<rect x="474" y="459" width="35.9" height="88.8" fill="#b5d68b"/>
<rect x="527.1" y="420.8" width="36.7" height="127.0" fill="#c594c3"/>
<path d="M128.9,448.5 H146.1 M137.5,448.5 V455.9" stroke="#22a23b" stroke-width="1.5"/>
<path d="M182.0,446.3 H199.8 M190.9,446.3 V450.6" stroke="#8f3d97" stroke-width="1.5"/>
<path d="M252.9,456.2 H270.1 M261.5,456.2 V462.1" stroke="#22a23b" stroke-width="1.5"/>
<path d="M306.9,409.6 H323.1 M315,409.6 V415.8" stroke="#8f3d97" stroke-width="1.5"/>
<path d="M377.0,450.2 H394.6 M385.8,450.2 V458" stroke="#22a23b" stroke-width="1.5"/>
<path d="M430.3,444.5 H448.1 M439.2,444.5 V453.1" stroke="#8f3d97" stroke-width="1.5"/>
<path d="M482.6,450.4 H501.4 M492,450.4 V459" stroke="#22a23b" stroke-width="1.5"/>
<path d="M535.8,414.2 H554.6 M545.2,414.2 V420.8" stroke="#8f3d97" stroke-width="1.5"/>
<circle cx="125.1" cy="441.1" r="4.75" fill="#fff" stroke="#22a23b" stroke-width="1.5"/>
<circle cx="150.8" cy="435.1" r="4.75" fill="#fff" stroke="#22a23b" stroke-width="1.5"/>
<circle cx="125.1" cy="454.5" r="4.75" fill="#fff" stroke="#22a23b" stroke-width="1.5"/>
<circle cx="150.8" cy="451.1" r="4.75" fill="#fff" stroke="#22a23b" stroke-width="1.5"/>
<circle cx="137.5" cy="465.7" r="4.75" fill="#fff" stroke="#22a23b" stroke-width="1.5"/>
<circle cx="137.5" cy="487.2" r="4.75" fill="#fff" stroke="#22a23b" stroke-width="1.5"/>
<circle cx="249.1" cy="444.5" r="4.75" fill="#fff" stroke="#22a23b" stroke-width="1.5"/>
<circle cx="274.9" cy="448.5" r="4.75" fill="#fff" stroke="#22a23b" stroke-width="1.5"/>
<circle cx="249.1" cy="454.9" r="4.75" fill="#fff" stroke="#22a23b" stroke-width="1.5"/>
<circle cx="249.1" cy="466.9" r="4.75" fill="#fff" stroke="#22a23b" stroke-width="1.5"/>
<circle cx="274.9" cy="474.7" r="4.75" fill="#fff" stroke="#22a23b" stroke-width="1.5"/>
<circle cx="249.1" cy="480.7" r="4.75" fill="#fff" stroke="#22a23b" stroke-width="1.5"/>
<circle cx="379.3" cy="436.8" r="4.75" fill="#fff" stroke="#22a23b" stroke-width="1.5"/>
<circle cx="392.2" cy="436.8" r="4.75" fill="#fff" stroke="#22a23b" stroke-width="1.5"/>
<circle cx="372.9" cy="457.1" r="4.75" fill="#fff" stroke="#22a23b" stroke-width="1.5"/>
<circle cx="385.8" cy="465.4" r="4.75" fill="#fff" stroke="#22a23b" stroke-width="1.5"/>
<circle cx="398.7" cy="463.3" r="4.75" fill="#fff" stroke="#22a23b" stroke-width="1.5"/>
<circle cx="385.8" cy="491.8" r="4.75" fill="#fff" stroke="#22a23b" stroke-width="1.5"/>
<circle cx="492" cy="426.3" r="4.75" fill="#fff" stroke="#22a23b" stroke-width="1.5"/>
<circle cx="492" cy="445.3" r="4.75" fill="#fff" stroke="#22a23b" stroke-width="1.5"/>
<circle cx="492.1" cy="464.7" r="4.75" fill="#fff" stroke="#22a23b" stroke-width="1.5"/>
<circle cx="505.2" cy="463.4" r="4.75" fill="#fff" stroke="#22a23b" stroke-width="1.5"/>
<circle cx="505.4" cy="473.5" r="4.75" fill="#fff" stroke="#22a23b" stroke-width="1.5"/>
<circle cx="479.3" cy="478.8" r="4.75" fill="#fff" stroke="#22a23b" stroke-width="1.5"/>
<circle cx="190.9" cy="436.5" r="4.75" fill="#fff" stroke="#8f3d97" stroke-width="1.5"/>
<circle cx="204.1" cy="441.6" r="4.75" fill="#fff" stroke="#8f3d97" stroke-width="1.5"/>
<circle cx="178.3" cy="450.6" r="4.75" fill="#fff" stroke="#8f3d97" stroke-width="1.5"/>
<circle cx="204.1" cy="454.5" r="4.75" fill="#fff" stroke="#8f3d97" stroke-width="1.5"/>
<circle cx="190.9" cy="457.1" r="4.75" fill="#fff" stroke="#8f3d97" stroke-width="1.5"/>
<circle cx="190.9" cy="469.5" r="4.75" fill="#fff" stroke="#8f3d97" stroke-width="1.5"/>
<circle cx="314.8" cy="402.4" r="4.75" fill="#fff" stroke="#8f3d97" stroke-width="1.5"/>
<circle cx="327.9" cy="402.4" r="4.75" fill="#fff" stroke="#8f3d97" stroke-width="1.5"/>
<circle cx="301.9" cy="409.6" r="4.75" fill="#fff" stroke="#8f3d97" stroke-width="1.5"/>
<circle cx="327.9" cy="414.9" r="4.75" fill="#fff" stroke="#8f3d97" stroke-width="1.5"/>
<circle cx="314.8" cy="421.8" r="4.75" fill="#fff" stroke="#8f3d97" stroke-width="1.5"/>
<circle cx="314.8" cy="444.2" r="4.75" fill="#fff" stroke="#8f3d97" stroke-width="1.5"/>
<circle cx="425.9" cy="428.2" r="4.75" fill="#fff" stroke="#8f3d97" stroke-width="1.5"/>
<circle cx="452.1" cy="426.2" r="4.75" fill="#fff" stroke="#8f3d97" stroke-width="1.5"/>
<circle cx="425.9" cy="460.6" r="4.75" fill="#fff" stroke="#8f3d97" stroke-width="1.5"/>
<circle cx="452.1" cy="455.6" r="4.75" fill="#fff" stroke="#8f3d97" stroke-width="1.5"/>
<circle cx="425.9" cy="476.1" r="4.75" fill="#fff" stroke="#8f3d97" stroke-width="1.5"/>
<circle cx="452.1" cy="473.3" r="4.75" fill="#fff" stroke="#8f3d97" stroke-width="1.5"/>
<circle cx="538.8" cy="402.7" r="4.75" fill="#fff" stroke="#8f3d97" stroke-width="1.5"/>
<circle cx="551.8" cy="402.2" r="4.75" fill="#fff" stroke="#8f3d97" stroke-width="1.5"/>
<circle cx="545.2" cy="413.9" r="4.75" fill="#fff" stroke="#8f3d97" stroke-width="1.5"/>
<circle cx="545.2" cy="433.7" r="4.75" fill="#fff" stroke="#8f3d97" stroke-width="1.5"/>
<circle cx="558.1" cy="434.5" r="4.75" fill="#fff" stroke="#8f3d97" stroke-width="1.5"/>
<circle cx="532.3" cy="443" r="4.75" fill="#fff" stroke="#8f3d97" stroke-width="1.5"/>
<path d="M141,419.3 H193 M268,383.3 H320 M388.1,410.5 H440 M498.9,388.4 H550.9" stroke="#231815" stroke-width="1.4"/>
<text transform="translate(155.21,413) scale(0.8600,1)" font-size="21" font-weight="400" fill="#231815">ns</text>
<text transform="translate(402.07,403.8) scale(0.8850,1)" font-size="21" font-weight="400" fill="#231815">ns</text>
<text transform="translate(280.42,382) scale(0.7689,1)" font-size="20" font-weight="400" fill="#231815">***</text>
<text transform="translate(513.49,386) scale(0.8136,1)" font-size="20" font-weight="400" fill="#231815">**</text>
</svg></body></html>
